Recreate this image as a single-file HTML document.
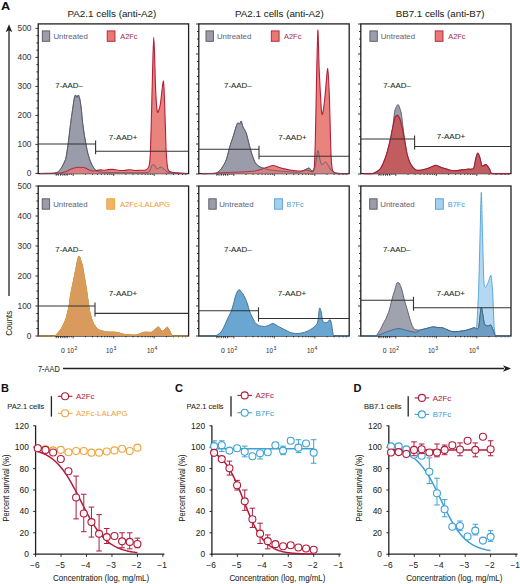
<!DOCTYPE html>
<html><head><meta charset="utf-8"><style>
html,body{margin:0;padding:0;background:#fff;width:520px;height:584px;overflow:hidden}
svg{display:block}
text{font-family:"Liberation Sans", sans-serif}
</style></head><body>
<svg width="520" height="584" viewBox="0 0 520 584">
<rect width="520" height="584" fill="#fff"/>
<text x="1.0" y="10.4" font-size="10.4" font-weight="bold" fill="#111" textLength="9.2" lengthAdjust="spacingAndGlyphs" stroke="#111" stroke-width="0.06">A</text>
<text x="67.5" y="16.5" font-size="9.3" fill="#231f20" textLength="88.8" lengthAdjust="spacingAndGlyphs" stroke="#231f20" stroke-width="0.06">PA2.1 cells (anti-A2)</text>
<text x="235.0" y="16.5" font-size="9.3" fill="#231f20" textLength="88.8" lengthAdjust="spacingAndGlyphs" stroke="#231f20" stroke-width="0.06">PA2.1 cells (anti-A2)</text>
<text x="395.7" y="16.5" font-size="9.3" fill="#231f20" textLength="88.8" lengthAdjust="spacingAndGlyphs" stroke="#231f20" stroke-width="0.06">BB7.1 cells (anti-B7)</text>
<rect x="38.2" y="23.9" width="150.39999999999998" height="149.7" fill="none" stroke="#1f1f1f" stroke-width="1.3"/>
<line x1="35.400000000000006" y1="173.40" x2="38.2" y2="173.40" stroke="#1f1f1f" stroke-width="0.9"/>
<line x1="36.400000000000006" y1="166.15" x2="38.2" y2="166.15" stroke="#1f1f1f" stroke-width="0.9"/>
<line x1="36.400000000000006" y1="158.90" x2="38.2" y2="158.90" stroke="#1f1f1f" stroke-width="0.9"/>
<line x1="36.400000000000006" y1="151.65" x2="38.2" y2="151.65" stroke="#1f1f1f" stroke-width="0.9"/>
<line x1="35.400000000000006" y1="144.40" x2="38.2" y2="144.40" stroke="#1f1f1f" stroke-width="0.9"/>
<line x1="36.400000000000006" y1="137.15" x2="38.2" y2="137.15" stroke="#1f1f1f" stroke-width="0.9"/>
<line x1="36.400000000000006" y1="129.90" x2="38.2" y2="129.90" stroke="#1f1f1f" stroke-width="0.9"/>
<line x1="36.400000000000006" y1="122.65" x2="38.2" y2="122.65" stroke="#1f1f1f" stroke-width="0.9"/>
<line x1="35.400000000000006" y1="115.40" x2="38.2" y2="115.40" stroke="#1f1f1f" stroke-width="0.9"/>
<line x1="36.400000000000006" y1="108.15" x2="38.2" y2="108.15" stroke="#1f1f1f" stroke-width="0.9"/>
<line x1="36.400000000000006" y1="100.90" x2="38.2" y2="100.90" stroke="#1f1f1f" stroke-width="0.9"/>
<line x1="36.400000000000006" y1="93.65" x2="38.2" y2="93.65" stroke="#1f1f1f" stroke-width="0.9"/>
<line x1="35.400000000000006" y1="86.40" x2="38.2" y2="86.40" stroke="#1f1f1f" stroke-width="0.9"/>
<line x1="36.400000000000006" y1="79.15" x2="38.2" y2="79.15" stroke="#1f1f1f" stroke-width="0.9"/>
<line x1="36.400000000000006" y1="71.90" x2="38.2" y2="71.90" stroke="#1f1f1f" stroke-width="0.9"/>
<line x1="36.400000000000006" y1="64.65" x2="38.2" y2="64.65" stroke="#1f1f1f" stroke-width="0.9"/>
<line x1="35.400000000000006" y1="57.40" x2="38.2" y2="57.40" stroke="#1f1f1f" stroke-width="0.9"/>
<line x1="36.400000000000006" y1="50.15" x2="38.2" y2="50.15" stroke="#1f1f1f" stroke-width="0.9"/>
<line x1="36.400000000000006" y1="42.90" x2="38.2" y2="42.90" stroke="#1f1f1f" stroke-width="0.9"/>
<line x1="36.400000000000006" y1="35.65" x2="38.2" y2="35.65" stroke="#1f1f1f" stroke-width="0.9"/>
<line x1="35.400000000000006" y1="28.40" x2="38.2" y2="28.40" stroke="#1f1f1f" stroke-width="0.9"/>
<line x1="57.08" y1="173.6" x2="57.08" y2="175.0" stroke="#1f1f1f" stroke-width="0.8"/>
<line x1="61.01" y1="173.6" x2="61.01" y2="175.0" stroke="#1f1f1f" stroke-width="0.8"/>
<line x1="64.22" y1="173.6" x2="64.22" y2="175.0" stroke="#1f1f1f" stroke-width="0.8"/>
<line x1="66.93" y1="173.6" x2="66.93" y2="175.0" stroke="#1f1f1f" stroke-width="0.8"/>
<line x1="69.28" y1="173.6" x2="69.28" y2="175.0" stroke="#1f1f1f" stroke-width="0.8"/>
<line x1="71.35" y1="173.6" x2="71.35" y2="175.0" stroke="#1f1f1f" stroke-width="0.8"/>
<line x1="73.20" y1="173.6" x2="73.20" y2="176.0" stroke="#1f1f1f" stroke-width="0.8"/>
<line x1="85.39" y1="173.6" x2="85.39" y2="175.0" stroke="#1f1f1f" stroke-width="0.8"/>
<line x1="92.52" y1="173.6" x2="92.52" y2="175.0" stroke="#1f1f1f" stroke-width="0.8"/>
<line x1="97.58" y1="173.6" x2="97.58" y2="175.0" stroke="#1f1f1f" stroke-width="0.8"/>
<line x1="101.51" y1="173.6" x2="101.51" y2="175.0" stroke="#1f1f1f" stroke-width="0.8"/>
<line x1="104.72" y1="173.6" x2="104.72" y2="175.0" stroke="#1f1f1f" stroke-width="0.8"/>
<line x1="107.43" y1="173.6" x2="107.43" y2="175.0" stroke="#1f1f1f" stroke-width="0.8"/>
<line x1="109.78" y1="173.6" x2="109.78" y2="175.0" stroke="#1f1f1f" stroke-width="0.8"/>
<line x1="111.85" y1="173.6" x2="111.85" y2="175.0" stroke="#1f1f1f" stroke-width="0.8"/>
<line x1="113.70" y1="173.6" x2="113.70" y2="176.0" stroke="#1f1f1f" stroke-width="0.8"/>
<line x1="125.89" y1="173.6" x2="125.89" y2="175.0" stroke="#1f1f1f" stroke-width="0.8"/>
<line x1="133.02" y1="173.6" x2="133.02" y2="175.0" stroke="#1f1f1f" stroke-width="0.8"/>
<line x1="138.08" y1="173.6" x2="138.08" y2="175.0" stroke="#1f1f1f" stroke-width="0.8"/>
<line x1="142.01" y1="173.6" x2="142.01" y2="175.0" stroke="#1f1f1f" stroke-width="0.8"/>
<line x1="145.22" y1="173.6" x2="145.22" y2="175.0" stroke="#1f1f1f" stroke-width="0.8"/>
<line x1="147.93" y1="173.6" x2="147.93" y2="175.0" stroke="#1f1f1f" stroke-width="0.8"/>
<line x1="150.28" y1="173.6" x2="150.28" y2="175.0" stroke="#1f1f1f" stroke-width="0.8"/>
<line x1="152.35" y1="173.6" x2="152.35" y2="175.0" stroke="#1f1f1f" stroke-width="0.8"/>
<line x1="154.20" y1="173.6" x2="154.20" y2="176.0" stroke="#1f1f1f" stroke-width="0.8"/>
<line x1="166.39" y1="173.6" x2="166.39" y2="175.0" stroke="#1f1f1f" stroke-width="0.8"/>
<line x1="173.52" y1="173.6" x2="173.52" y2="175.0" stroke="#1f1f1f" stroke-width="0.8"/>
<line x1="178.58" y1="173.6" x2="178.58" y2="175.0" stroke="#1f1f1f" stroke-width="0.8"/>
<line x1="182.51" y1="173.6" x2="182.51" y2="175.0" stroke="#1f1f1f" stroke-width="0.8"/>
<line x1="185.72" y1="173.6" x2="185.72" y2="175.0" stroke="#1f1f1f" stroke-width="0.8"/>
<line x1="56.20" y1="173.6" x2="56.20" y2="175.79999999999998" stroke="#1f1f1f" stroke-width="0.8"/>
<line x1="58.40" y1="173.6" x2="58.40" y2="175.79999999999998" stroke="#1f1f1f" stroke-width="0.8"/>
<line x1="60.60" y1="173.6" x2="60.60" y2="175.79999999999998" stroke="#1f1f1f" stroke-width="0.8"/>
<line x1="62.80" y1="173.6" x2="62.80" y2="175.79999999999998" stroke="#1f1f1f" stroke-width="0.8"/>
<line x1="65.00" y1="173.6" x2="65.00" y2="175.79999999999998" stroke="#1f1f1f" stroke-width="0.8"/>
<line x1="67.20" y1="173.6" x2="67.20" y2="175.79999999999998" stroke="#1f1f1f" stroke-width="0.8"/>
<g><path d="M40.00,173.6 L40.00,173.60 C41.17,173.59 48.37,173.53 50.00,173.50 C51.63,173.47 53.03,173.51 54.00,173.30 C54.97,173.09 57.37,172.45 58.30,171.70 C59.23,170.95 61.15,168.36 62.00,166.90 C62.85,165.44 65.04,160.82 65.60,159.20 C66.16,157.58 66.47,155.01 66.80,153.00 C67.13,150.99 67.96,145.44 68.40,142.00 C68.84,138.56 70.09,127.47 70.60,123.50 C71.11,119.53 72.37,110.97 72.80,108.00 C73.23,105.03 73.98,99.52 74.30,98.00 C74.61,96.48 75.19,95.06 75.50,95.00 C75.81,94.94 76.67,97.50 77.00,97.50 C77.33,97.50 77.97,94.83 78.30,95.00 C78.63,95.17 79.46,97.48 79.80,99.00 C80.14,100.52 80.86,105.14 81.20,108.00 C81.54,110.86 82.26,119.88 82.70,123.50 C83.14,127.12 84.44,135.68 85.00,139.00 C85.56,142.32 86.96,149.64 87.50,152.00 C88.04,154.36 89.13,157.80 89.60,159.20 C90.07,160.60 91.05,163.03 91.50,164.00 C91.95,164.97 92.95,166.71 93.50,167.50 C94.05,168.29 95.44,170.28 96.20,170.80 C96.96,171.33 98.39,171.79 100.00,172.00 C101.61,172.21 105.33,172.51 110.00,172.60 C114.67,172.69 135.45,172.87 140.00,172.80 C144.55,172.73 147.62,172.85 149.00,172.00 C150.38,171.15 151.17,166.32 151.80,165.50 C152.43,164.68 153.79,164.59 154.40,165.00 C155.01,165.41 156.25,168.77 157.00,169.00 C157.75,169.23 159.98,167.00 160.80,167.00 C161.62,167.00 163.16,168.36 164.00,169.00 C164.84,169.64 166.72,171.97 168.00,172.50 C169.28,173.03 172.71,173.37 175.00,173.50 C177.29,173.63 186.13,173.59 187.60,173.60 L187.60,173.6 Z" fill="#9b9daa" fill-opacity="1.0" stroke="none"/>
<path d="M40.00,173.60 C41.17,173.59 48.37,173.53 50.00,173.50 C51.63,173.47 53.03,173.51 54.00,173.30 C54.97,173.09 57.37,172.45 58.30,171.70 C59.23,170.95 61.15,168.36 62.00,166.90 C62.85,165.44 65.04,160.82 65.60,159.20 C66.16,157.58 66.47,155.01 66.80,153.00 C67.13,150.99 67.96,145.44 68.40,142.00 C68.84,138.56 70.09,127.47 70.60,123.50 C71.11,119.53 72.37,110.97 72.80,108.00 C73.23,105.03 73.98,99.52 74.30,98.00 C74.61,96.48 75.19,95.06 75.50,95.00 C75.81,94.94 76.67,97.50 77.00,97.50 C77.33,97.50 77.97,94.83 78.30,95.00 C78.63,95.17 79.46,97.48 79.80,99.00 C80.14,100.52 80.86,105.14 81.20,108.00 C81.54,110.86 82.26,119.88 82.70,123.50 C83.14,127.12 84.44,135.68 85.00,139.00 C85.56,142.32 86.96,149.64 87.50,152.00 C88.04,154.36 89.13,157.80 89.60,159.20 C90.07,160.60 91.05,163.03 91.50,164.00 C91.95,164.97 92.95,166.71 93.50,167.50 C94.05,168.29 95.44,170.28 96.20,170.80 C96.96,171.33 98.39,171.79 100.00,172.00 C101.61,172.21 105.33,172.51 110.00,172.60 C114.67,172.69 135.45,172.87 140.00,172.80 C144.55,172.73 147.62,172.85 149.00,172.00 C150.38,171.15 151.17,166.32 151.80,165.50 C152.43,164.68 153.79,164.59 154.40,165.00 C155.01,165.41 156.25,168.77 157.00,169.00 C157.75,169.23 159.98,167.00 160.80,167.00 C161.62,167.00 163.16,168.36 164.00,169.00 C164.84,169.64 166.72,171.97 168.00,172.50 C169.28,173.03 172.71,173.37 175.00,173.50 C177.29,173.63 186.13,173.59 187.60,173.60" fill="none" stroke="#545766" stroke-width="0.9" stroke-linejoin="round"/></g>
<g><path d="M40.00,173.6 L40.00,173.50 C41.75,173.47 52.43,173.28 55.00,173.20 C57.57,173.12 60.72,172.99 62.00,172.80 C63.28,172.61 65.07,171.97 66.00,171.60 C66.93,171.23 69.07,170.02 70.00,169.60 C70.93,169.18 72.97,168.28 74.00,168.00 C75.03,167.72 78.01,167.22 78.80,167.20 C79.59,167.18 80.34,167.80 80.80,167.80 C81.25,167.80 82.09,167.14 82.70,167.20 C83.31,167.26 85.15,167.95 86.00,168.30 C86.85,168.65 89.15,169.88 90.00,170.20 C90.85,170.51 92.60,170.95 93.30,171.00 C94.00,171.05 95.22,170.73 96.00,170.60 C96.78,170.47 99.07,169.94 100.00,169.90 C100.93,169.87 103.07,170.34 104.00,170.30 C104.93,170.27 106.95,169.70 108.00,169.60 C109.05,169.50 111.83,169.33 113.00,169.40 C114.17,169.47 116.72,170.07 118.00,170.20 C119.28,170.33 122.60,170.55 124.00,170.50 C125.40,170.45 128.60,169.80 130.00,169.80 C131.40,169.80 134.83,170.45 136.00,170.50 C137.17,170.55 138.83,170.26 140.00,170.20 C141.17,170.14 144.93,170.55 146.00,170.00 C147.07,169.45 148.67,167.83 149.20,165.50 C149.72,163.17 150.20,157.41 150.50,150.00 C150.80,142.59 151.51,113.08 151.80,102.00 C152.09,90.92 152.77,62.55 153.00,55.00 C153.23,47.45 153.61,37.30 153.80,37.30 C153.99,37.30 154.39,48.97 154.60,55.00 C154.81,61.03 155.27,82.35 155.60,89.00 C155.93,95.65 156.85,110.19 157.40,112.00 C157.95,113.81 159.61,108.12 160.30,104.50 C160.99,100.88 162.80,81.29 163.30,81.00 C163.80,80.71 164.28,94.18 164.60,102.00 C164.91,109.82 165.70,140.69 166.00,148.00 C166.30,155.31 166.91,162.06 167.20,164.70 C167.49,167.34 167.94,169.71 168.50,170.60 C169.06,171.49 170.66,172.02 172.00,172.30 C173.34,172.58 178.13,172.86 180.00,173.00 C181.87,173.14 187.07,173.44 188.00,173.50 L188.00,173.6 Z" fill="#e77873" fill-opacity="0.92" stroke="none"/>
<path d="M40.00,173.50 C41.75,173.47 52.43,173.28 55.00,173.20 C57.57,173.12 60.72,172.99 62.00,172.80 C63.28,172.61 65.07,171.97 66.00,171.60 C66.93,171.23 69.07,170.02 70.00,169.60 C70.93,169.18 72.97,168.28 74.00,168.00 C75.03,167.72 78.01,167.22 78.80,167.20 C79.59,167.18 80.34,167.80 80.80,167.80 C81.25,167.80 82.09,167.14 82.70,167.20 C83.31,167.26 85.15,167.95 86.00,168.30 C86.85,168.65 89.15,169.88 90.00,170.20 C90.85,170.51 92.60,170.95 93.30,171.00 C94.00,171.05 95.22,170.73 96.00,170.60 C96.78,170.47 99.07,169.94 100.00,169.90 C100.93,169.87 103.07,170.34 104.00,170.30 C104.93,170.27 106.95,169.70 108.00,169.60 C109.05,169.50 111.83,169.33 113.00,169.40 C114.17,169.47 116.72,170.07 118.00,170.20 C119.28,170.33 122.60,170.55 124.00,170.50 C125.40,170.45 128.60,169.80 130.00,169.80 C131.40,169.80 134.83,170.45 136.00,170.50 C137.17,170.55 138.83,170.26 140.00,170.20 C141.17,170.14 144.93,170.55 146.00,170.00 C147.07,169.45 148.67,167.83 149.20,165.50 C149.72,163.17 150.20,157.41 150.50,150.00 C150.80,142.59 151.51,113.08 151.80,102.00 C152.09,90.92 152.77,62.55 153.00,55.00 C153.23,47.45 153.61,37.30 153.80,37.30 C153.99,37.30 154.39,48.97 154.60,55.00 C154.81,61.03 155.27,82.35 155.60,89.00 C155.93,95.65 156.85,110.19 157.40,112.00 C157.95,113.81 159.61,108.12 160.30,104.50 C160.99,100.88 162.80,81.29 163.30,81.00 C163.80,80.71 164.28,94.18 164.60,102.00 C164.91,109.82 165.70,140.69 166.00,148.00 C166.30,155.31 166.91,162.06 167.20,164.70 C167.49,167.34 167.94,169.71 168.50,170.60 C169.06,171.49 170.66,172.02 172.00,172.30 C173.34,172.58 178.13,172.86 180.00,173.00 C181.87,173.14 187.07,173.44 188.00,173.50" fill="none" stroke="#b51f3a" stroke-width="1.1" stroke-linejoin="round"/></g>
<g><path d="M40.00,173.6 L40.00,173.60 C41.17,173.59 48.37,173.53 50.00,173.50 C51.63,173.47 53.03,173.51 54.00,173.30 C54.97,173.09 57.37,172.45 58.30,171.70 C59.23,170.95 61.15,168.36 62.00,166.90 C62.85,165.44 65.04,160.82 65.60,159.20 C66.16,157.58 66.47,155.01 66.80,153.00 C67.13,150.99 67.96,145.44 68.40,142.00 C68.84,138.56 70.09,127.47 70.60,123.50 C71.11,119.53 72.37,110.97 72.80,108.00 C73.23,105.03 73.98,99.52 74.30,98.00 C74.61,96.48 75.19,95.06 75.50,95.00 C75.81,94.94 76.67,97.50 77.00,97.50 C77.33,97.50 77.97,94.83 78.30,95.00 C78.63,95.17 79.46,97.48 79.80,99.00 C80.14,100.52 80.86,105.14 81.20,108.00 C81.54,110.86 82.26,119.88 82.70,123.50 C83.14,127.12 84.44,135.68 85.00,139.00 C85.56,142.32 86.96,149.64 87.50,152.00 C88.04,154.36 89.13,157.80 89.60,159.20 C90.07,160.60 91.05,163.03 91.50,164.00 C91.95,164.97 92.95,166.71 93.50,167.50 C94.05,168.29 95.44,170.28 96.20,170.80 C96.96,171.33 98.39,171.79 100.00,172.00 C101.61,172.21 105.33,172.51 110.00,172.60 C114.67,172.69 135.45,172.87 140.00,172.80 C144.55,172.73 147.62,172.85 149.00,172.00 C150.38,171.15 151.17,166.32 151.80,165.50 C152.43,164.68 153.79,164.59 154.40,165.00 C155.01,165.41 156.25,168.77 157.00,169.00 C157.75,169.23 159.98,167.00 160.80,167.00 C161.62,167.00 163.16,168.36 164.00,169.00 C164.84,169.64 166.72,171.97 168.00,172.50 C169.28,173.03 172.71,173.37 175.00,173.50 C177.29,173.63 186.13,173.59 187.60,173.60 L187.60,173.6 Z" fill="#9b9daa" fill-opacity="0.15" stroke="none"/>
<path d="M40.00,173.60 C41.17,173.59 48.37,173.53 50.00,173.50 C51.63,173.47 53.03,173.51 54.00,173.30 C54.97,173.09 57.37,172.45 58.30,171.70 C59.23,170.95 61.15,168.36 62.00,166.90 C62.85,165.44 65.04,160.82 65.60,159.20 C66.16,157.58 66.47,155.01 66.80,153.00 C67.13,150.99 67.96,145.44 68.40,142.00 C68.84,138.56 70.09,127.47 70.60,123.50 C71.11,119.53 72.37,110.97 72.80,108.00 C73.23,105.03 73.98,99.52 74.30,98.00 C74.61,96.48 75.19,95.06 75.50,95.00 C75.81,94.94 76.67,97.50 77.00,97.50 C77.33,97.50 77.97,94.83 78.30,95.00 C78.63,95.17 79.46,97.48 79.80,99.00 C80.14,100.52 80.86,105.14 81.20,108.00 C81.54,110.86 82.26,119.88 82.70,123.50 C83.14,127.12 84.44,135.68 85.00,139.00 C85.56,142.32 86.96,149.64 87.50,152.00 C88.04,154.36 89.13,157.80 89.60,159.20 C90.07,160.60 91.05,163.03 91.50,164.00 C91.95,164.97 92.95,166.71 93.50,167.50 C94.05,168.29 95.44,170.28 96.20,170.80 C96.96,171.33 98.39,171.79 100.00,172.00 C101.61,172.21 105.33,172.51 110.00,172.60 C114.67,172.69 135.45,172.87 140.00,172.80 C144.55,172.73 147.62,172.85 149.00,172.00 C150.38,171.15 151.17,166.32 151.80,165.50 C152.43,164.68 153.79,164.59 154.40,165.00 C155.01,165.41 156.25,168.77 157.00,169.00 C157.75,169.23 159.98,167.00 160.80,167.00 C161.62,167.00 163.16,168.36 164.00,169.00 C164.84,169.64 166.72,171.97 168.00,172.50 C169.28,173.03 172.71,173.37 175.00,173.50 C177.29,173.63 186.13,173.59 187.60,173.60" fill="none" stroke="#545766" stroke-width="0.7" stroke-linejoin="round"/></g>
<rect x="42.3" y="30.9" width="7.4" height="10.4" fill="#9b9daa" stroke="#545766" stroke-width="0.9"/>
<text x="53.4" y="38.8" font-size="8.1" fill="#66687a" textLength="34.4" lengthAdjust="spacingAndGlyphs" stroke="#66687a" stroke-width="0.06">Untreated</text>
<rect x="107.2" y="30.9" width="7.8" height="10.4" fill="#e77873" stroke="#b51f3a" stroke-width="0.9"/>
<text x="120.2" y="38.8" font-size="8.1" fill="#a83450" textLength="17.4" lengthAdjust="spacingAndGlyphs" stroke="#a83450" stroke-width="0.06">A2Fc</text>
<line x1="38.2" y1="144.0" x2="95.6" y2="144.0" stroke="#333" stroke-width="1.1"/>
<line x1="95.6" y1="140.5" x2="95.6" y2="154.2" stroke="#333" stroke-width="1.1"/>
<line x1="95.6" y1="151.2" x2="188.6" y2="151.2" stroke="#333" stroke-width="1.1"/>
<text x="55.3" y="88.1" font-size="7.7" fill="#231f20" textLength="27.6" lengthAdjust="spacingAndGlyphs" stroke="#231f20" stroke-width="0.06">7-AAD–</text>
<text x="108.8" y="139.6" font-size="7.7" fill="#231f20" textLength="28.6" lengthAdjust="spacingAndGlyphs" stroke="#231f20" stroke-width="0.06">7-AAD+</text>
<rect x="198.8" y="23.9" width="150.39999999999998" height="149.7" fill="none" stroke="#1f1f1f" stroke-width="1.3"/>
<line x1="196.0" y1="174.00" x2="198.8" y2="174.00" stroke="#1f1f1f" stroke-width="0.9"/>
<line x1="197.0" y1="166.50" x2="198.8" y2="166.50" stroke="#1f1f1f" stroke-width="0.9"/>
<line x1="197.0" y1="159.00" x2="198.8" y2="159.00" stroke="#1f1f1f" stroke-width="0.9"/>
<line x1="197.0" y1="151.50" x2="198.8" y2="151.50" stroke="#1f1f1f" stroke-width="0.9"/>
<line x1="196.0" y1="144.00" x2="198.8" y2="144.00" stroke="#1f1f1f" stroke-width="0.9"/>
<line x1="197.0" y1="136.50" x2="198.8" y2="136.50" stroke="#1f1f1f" stroke-width="0.9"/>
<line x1="197.0" y1="129.00" x2="198.8" y2="129.00" stroke="#1f1f1f" stroke-width="0.9"/>
<line x1="197.0" y1="121.50" x2="198.8" y2="121.50" stroke="#1f1f1f" stroke-width="0.9"/>
<line x1="196.0" y1="114.00" x2="198.8" y2="114.00" stroke="#1f1f1f" stroke-width="0.9"/>
<line x1="197.0" y1="106.50" x2="198.8" y2="106.50" stroke="#1f1f1f" stroke-width="0.9"/>
<line x1="197.0" y1="99.00" x2="198.8" y2="99.00" stroke="#1f1f1f" stroke-width="0.9"/>
<line x1="197.0" y1="91.50" x2="198.8" y2="91.50" stroke="#1f1f1f" stroke-width="0.9"/>
<line x1="196.0" y1="84.00" x2="198.8" y2="84.00" stroke="#1f1f1f" stroke-width="0.9"/>
<line x1="197.0" y1="76.50" x2="198.8" y2="76.50" stroke="#1f1f1f" stroke-width="0.9"/>
<line x1="197.0" y1="69.00" x2="198.8" y2="69.00" stroke="#1f1f1f" stroke-width="0.9"/>
<line x1="197.0" y1="61.50" x2="198.8" y2="61.50" stroke="#1f1f1f" stroke-width="0.9"/>
<line x1="196.0" y1="54.00" x2="198.8" y2="54.00" stroke="#1f1f1f" stroke-width="0.9"/>
<line x1="197.0" y1="46.50" x2="198.8" y2="46.50" stroke="#1f1f1f" stroke-width="0.9"/>
<line x1="197.0" y1="39.00" x2="198.8" y2="39.00" stroke="#1f1f1f" stroke-width="0.9"/>
<line x1="197.0" y1="31.50" x2="198.8" y2="31.50" stroke="#1f1f1f" stroke-width="0.9"/>
<line x1="196.0" y1="24.00" x2="198.8" y2="24.00" stroke="#1f1f1f" stroke-width="0.9"/>
<line x1="217.68" y1="173.6" x2="217.68" y2="175.0" stroke="#1f1f1f" stroke-width="0.8"/>
<line x1="221.61" y1="173.6" x2="221.61" y2="175.0" stroke="#1f1f1f" stroke-width="0.8"/>
<line x1="224.82" y1="173.6" x2="224.82" y2="175.0" stroke="#1f1f1f" stroke-width="0.8"/>
<line x1="227.53" y1="173.6" x2="227.53" y2="175.0" stroke="#1f1f1f" stroke-width="0.8"/>
<line x1="229.88" y1="173.6" x2="229.88" y2="175.0" stroke="#1f1f1f" stroke-width="0.8"/>
<line x1="231.95" y1="173.6" x2="231.95" y2="175.0" stroke="#1f1f1f" stroke-width="0.8"/>
<line x1="233.80" y1="173.6" x2="233.80" y2="176.0" stroke="#1f1f1f" stroke-width="0.8"/>
<line x1="245.99" y1="173.6" x2="245.99" y2="175.0" stroke="#1f1f1f" stroke-width="0.8"/>
<line x1="253.12" y1="173.6" x2="253.12" y2="175.0" stroke="#1f1f1f" stroke-width="0.8"/>
<line x1="258.18" y1="173.6" x2="258.18" y2="175.0" stroke="#1f1f1f" stroke-width="0.8"/>
<line x1="262.11" y1="173.6" x2="262.11" y2="175.0" stroke="#1f1f1f" stroke-width="0.8"/>
<line x1="265.32" y1="173.6" x2="265.32" y2="175.0" stroke="#1f1f1f" stroke-width="0.8"/>
<line x1="268.03" y1="173.6" x2="268.03" y2="175.0" stroke="#1f1f1f" stroke-width="0.8"/>
<line x1="270.38" y1="173.6" x2="270.38" y2="175.0" stroke="#1f1f1f" stroke-width="0.8"/>
<line x1="272.45" y1="173.6" x2="272.45" y2="175.0" stroke="#1f1f1f" stroke-width="0.8"/>
<line x1="274.30" y1="173.6" x2="274.30" y2="176.0" stroke="#1f1f1f" stroke-width="0.8"/>
<line x1="286.49" y1="173.6" x2="286.49" y2="175.0" stroke="#1f1f1f" stroke-width="0.8"/>
<line x1="293.62" y1="173.6" x2="293.62" y2="175.0" stroke="#1f1f1f" stroke-width="0.8"/>
<line x1="298.68" y1="173.6" x2="298.68" y2="175.0" stroke="#1f1f1f" stroke-width="0.8"/>
<line x1="302.61" y1="173.6" x2="302.61" y2="175.0" stroke="#1f1f1f" stroke-width="0.8"/>
<line x1="305.82" y1="173.6" x2="305.82" y2="175.0" stroke="#1f1f1f" stroke-width="0.8"/>
<line x1="308.53" y1="173.6" x2="308.53" y2="175.0" stroke="#1f1f1f" stroke-width="0.8"/>
<line x1="310.88" y1="173.6" x2="310.88" y2="175.0" stroke="#1f1f1f" stroke-width="0.8"/>
<line x1="312.95" y1="173.6" x2="312.95" y2="175.0" stroke="#1f1f1f" stroke-width="0.8"/>
<line x1="314.80" y1="173.6" x2="314.80" y2="176.0" stroke="#1f1f1f" stroke-width="0.8"/>
<line x1="326.99" y1="173.6" x2="326.99" y2="175.0" stroke="#1f1f1f" stroke-width="0.8"/>
<line x1="334.12" y1="173.6" x2="334.12" y2="175.0" stroke="#1f1f1f" stroke-width="0.8"/>
<line x1="339.18" y1="173.6" x2="339.18" y2="175.0" stroke="#1f1f1f" stroke-width="0.8"/>
<line x1="343.11" y1="173.6" x2="343.11" y2="175.0" stroke="#1f1f1f" stroke-width="0.8"/>
<line x1="346.32" y1="173.6" x2="346.32" y2="175.0" stroke="#1f1f1f" stroke-width="0.8"/>
<line x1="216.80" y1="173.6" x2="216.80" y2="175.79999999999998" stroke="#1f1f1f" stroke-width="0.8"/>
<line x1="219.00" y1="173.6" x2="219.00" y2="175.79999999999998" stroke="#1f1f1f" stroke-width="0.8"/>
<line x1="221.20" y1="173.6" x2="221.20" y2="175.79999999999998" stroke="#1f1f1f" stroke-width="0.8"/>
<line x1="223.40" y1="173.6" x2="223.40" y2="175.79999999999998" stroke="#1f1f1f" stroke-width="0.8"/>
<line x1="225.60" y1="173.6" x2="225.60" y2="175.79999999999998" stroke="#1f1f1f" stroke-width="0.8"/>
<line x1="227.80" y1="173.6" x2="227.80" y2="175.79999999999998" stroke="#1f1f1f" stroke-width="0.8"/>
<g><path d="M201.80,173.6 L201.80,173.60 C202.76,173.60 208.32,173.65 210.00,173.60 C211.68,173.55 214.86,173.79 216.20,173.20 C217.54,172.60 220.33,170.04 221.50,168.50 C222.67,166.96 225.21,162.62 226.20,160.00 C227.19,157.38 229.21,148.68 230.00,146.00 C230.79,143.32 232.30,139.22 233.00,137.00 C233.70,134.78 235.45,128.63 236.00,127.00 C236.55,125.37 237.27,123.37 237.70,123.00 C238.13,122.63 239.29,124.01 239.70,123.80 C240.11,123.59 240.81,120.83 241.20,121.20 C241.58,121.57 242.42,125.62 243.00,127.00 C243.58,128.38 245.48,130.95 246.20,133.00 C246.92,135.05 248.49,141.99 249.20,144.60 C249.91,147.21 251.58,153.25 252.30,155.40 C253.02,157.55 254.50,161.65 255.40,163.00 C256.30,164.35 258.93,166.36 260.00,167.00 C261.07,167.64 263.43,168.15 264.60,168.50 C265.77,168.85 267.62,169.65 270.00,170.00 C272.38,170.35 281.50,171.27 285.00,171.50 C288.50,171.73 297.22,172.41 300.00,172.00 C302.78,171.59 307.40,168.12 308.80,168.00 C310.20,167.88 311.24,171.23 312.00,171.00 C312.76,170.77 314.61,168.39 315.30,166.00 C315.99,163.61 317.35,151.20 317.90,150.50 C318.45,149.80 319.55,158.34 320.00,160.00 C320.45,161.66 321.15,164.47 321.80,164.70 C322.45,164.93 324.85,161.91 325.60,162.00 C326.35,162.09 327.57,164.57 328.20,165.50 C328.83,166.43 330.09,169.07 331.00,170.00 C331.91,170.93 333.99,173.08 336.00,173.50 C338.01,173.92 346.78,173.59 348.20,173.60 L348.20,173.6 Z" fill="#9b9daa" fill-opacity="1.0" stroke="none"/>
<path d="M201.80,173.60 C202.76,173.60 208.32,173.65 210.00,173.60 C211.68,173.55 214.86,173.79 216.20,173.20 C217.54,172.60 220.33,170.04 221.50,168.50 C222.67,166.96 225.21,162.62 226.20,160.00 C227.19,157.38 229.21,148.68 230.00,146.00 C230.79,143.32 232.30,139.22 233.00,137.00 C233.70,134.78 235.45,128.63 236.00,127.00 C236.55,125.37 237.27,123.37 237.70,123.00 C238.13,122.63 239.29,124.01 239.70,123.80 C240.11,123.59 240.81,120.83 241.20,121.20 C241.58,121.57 242.42,125.62 243.00,127.00 C243.58,128.38 245.48,130.95 246.20,133.00 C246.92,135.05 248.49,141.99 249.20,144.60 C249.91,147.21 251.58,153.25 252.30,155.40 C253.02,157.55 254.50,161.65 255.40,163.00 C256.30,164.35 258.93,166.36 260.00,167.00 C261.07,167.64 263.43,168.15 264.60,168.50 C265.77,168.85 267.62,169.65 270.00,170.00 C272.38,170.35 281.50,171.27 285.00,171.50 C288.50,171.73 297.22,172.41 300.00,172.00 C302.78,171.59 307.40,168.12 308.80,168.00 C310.20,167.88 311.24,171.23 312.00,171.00 C312.76,170.77 314.61,168.39 315.30,166.00 C315.99,163.61 317.35,151.20 317.90,150.50 C318.45,149.80 319.55,158.34 320.00,160.00 C320.45,161.66 321.15,164.47 321.80,164.70 C322.45,164.93 324.85,161.91 325.60,162.00 C326.35,162.09 327.57,164.57 328.20,165.50 C328.83,166.43 330.09,169.07 331.00,170.00 C331.91,170.93 333.99,173.08 336.00,173.50 C338.01,173.92 346.78,173.59 348.20,173.60" fill="none" stroke="#545766" stroke-width="0.9" stroke-linejoin="round"/></g>
<g><path d="M201.80,173.6 L201.80,173.60 C202.17,173.60 203.46,173.65 205.00,173.60 C206.54,173.55 212.67,173.33 215.00,173.20 C217.33,173.07 222.08,172.64 225.00,172.50 C227.92,172.36 236.50,172.18 240.00,172.00 C243.50,171.82 252.43,171.35 255.00,171.00 C257.57,170.65 260.48,169.47 262.00,169.00 C263.52,168.53 266.72,167.41 268.00,167.00 C269.28,166.59 271.83,165.50 273.00,165.50 C274.17,165.50 276.83,166.64 278.00,167.00 C279.17,167.36 281.60,168.25 283.00,168.60 C284.40,168.95 288.02,169.72 290.00,170.00 C291.98,170.28 298.13,171.00 300.00,171.00 C301.87,171.00 304.83,170.00 306.00,170.00 C307.17,170.00 309.07,171.00 310.00,171.00 C310.93,171.00 313.38,173.44 314.00,170.00 C314.62,166.56 315.00,152.37 315.30,141.50 C315.60,130.63 316.30,89.78 316.60,76.80 C316.90,63.81 317.60,30.99 317.90,30.20 C318.20,29.41 318.81,60.95 319.20,70.00 C319.58,79.05 320.81,102.63 321.20,107.80 C321.58,112.97 322.07,115.50 322.50,114.30 C322.93,113.10 324.29,102.84 324.90,97.50 C325.51,92.16 327.16,68.21 327.70,68.50 C328.24,68.79 329.14,90.59 329.50,100.00 C329.86,109.41 330.50,141.20 330.80,149.20 C331.10,157.20 331.70,165.88 332.10,168.60 C332.50,171.32 333.28,171.93 334.20,172.50 C335.12,173.07 338.37,173.37 340.00,173.50 C341.63,173.63 347.24,173.59 348.20,173.60 L348.20,173.6 Z" fill="#e77873" fill-opacity="0.92" stroke="none"/>
<path d="M201.80,173.60 C202.17,173.60 203.46,173.65 205.00,173.60 C206.54,173.55 212.67,173.33 215.00,173.20 C217.33,173.07 222.08,172.64 225.00,172.50 C227.92,172.36 236.50,172.18 240.00,172.00 C243.50,171.82 252.43,171.35 255.00,171.00 C257.57,170.65 260.48,169.47 262.00,169.00 C263.52,168.53 266.72,167.41 268.00,167.00 C269.28,166.59 271.83,165.50 273.00,165.50 C274.17,165.50 276.83,166.64 278.00,167.00 C279.17,167.36 281.60,168.25 283.00,168.60 C284.40,168.95 288.02,169.72 290.00,170.00 C291.98,170.28 298.13,171.00 300.00,171.00 C301.87,171.00 304.83,170.00 306.00,170.00 C307.17,170.00 309.07,171.00 310.00,171.00 C310.93,171.00 313.38,173.44 314.00,170.00 C314.62,166.56 315.00,152.37 315.30,141.50 C315.60,130.63 316.30,89.78 316.60,76.80 C316.90,63.81 317.60,30.99 317.90,30.20 C318.20,29.41 318.81,60.95 319.20,70.00 C319.58,79.05 320.81,102.63 321.20,107.80 C321.58,112.97 322.07,115.50 322.50,114.30 C322.93,113.10 324.29,102.84 324.90,97.50 C325.51,92.16 327.16,68.21 327.70,68.50 C328.24,68.79 329.14,90.59 329.50,100.00 C329.86,109.41 330.50,141.20 330.80,149.20 C331.10,157.20 331.70,165.88 332.10,168.60 C332.50,171.32 333.28,171.93 334.20,172.50 C335.12,173.07 338.37,173.37 340.00,173.50 C341.63,173.63 347.24,173.59 348.20,173.60" fill="none" stroke="#b51f3a" stroke-width="1.1" stroke-linejoin="round"/></g>
<g><path d="M201.80,173.6 L201.80,173.60 C202.76,173.60 208.32,173.65 210.00,173.60 C211.68,173.55 214.86,173.79 216.20,173.20 C217.54,172.60 220.33,170.04 221.50,168.50 C222.67,166.96 225.21,162.62 226.20,160.00 C227.19,157.38 229.21,148.68 230.00,146.00 C230.79,143.32 232.30,139.22 233.00,137.00 C233.70,134.78 235.45,128.63 236.00,127.00 C236.55,125.37 237.27,123.37 237.70,123.00 C238.13,122.63 239.29,124.01 239.70,123.80 C240.11,123.59 240.81,120.83 241.20,121.20 C241.58,121.57 242.42,125.62 243.00,127.00 C243.58,128.38 245.48,130.95 246.20,133.00 C246.92,135.05 248.49,141.99 249.20,144.60 C249.91,147.21 251.58,153.25 252.30,155.40 C253.02,157.55 254.50,161.65 255.40,163.00 C256.30,164.35 258.93,166.36 260.00,167.00 C261.07,167.64 263.43,168.15 264.60,168.50 C265.77,168.85 267.62,169.65 270.00,170.00 C272.38,170.35 281.50,171.27 285.00,171.50 C288.50,171.73 297.22,172.41 300.00,172.00 C302.78,171.59 307.40,168.12 308.80,168.00 C310.20,167.88 311.24,171.23 312.00,171.00 C312.76,170.77 314.61,168.39 315.30,166.00 C315.99,163.61 317.35,151.20 317.90,150.50 C318.45,149.80 319.55,158.34 320.00,160.00 C320.45,161.66 321.15,164.47 321.80,164.70 C322.45,164.93 324.85,161.91 325.60,162.00 C326.35,162.09 327.57,164.57 328.20,165.50 C328.83,166.43 330.09,169.07 331.00,170.00 C331.91,170.93 333.99,173.08 336.00,173.50 C338.01,173.92 346.78,173.59 348.20,173.60 L348.20,173.6 Z" fill="#9b9daa" fill-opacity="0.2" stroke="none"/>
<path d="M201.80,173.60 C202.76,173.60 208.32,173.65 210.00,173.60 C211.68,173.55 214.86,173.79 216.20,173.20 C217.54,172.60 220.33,170.04 221.50,168.50 C222.67,166.96 225.21,162.62 226.20,160.00 C227.19,157.38 229.21,148.68 230.00,146.00 C230.79,143.32 232.30,139.22 233.00,137.00 C233.70,134.78 235.45,128.63 236.00,127.00 C236.55,125.37 237.27,123.37 237.70,123.00 C238.13,122.63 239.29,124.01 239.70,123.80 C240.11,123.59 240.81,120.83 241.20,121.20 C241.58,121.57 242.42,125.62 243.00,127.00 C243.58,128.38 245.48,130.95 246.20,133.00 C246.92,135.05 248.49,141.99 249.20,144.60 C249.91,147.21 251.58,153.25 252.30,155.40 C253.02,157.55 254.50,161.65 255.40,163.00 C256.30,164.35 258.93,166.36 260.00,167.00 C261.07,167.64 263.43,168.15 264.60,168.50 C265.77,168.85 267.62,169.65 270.00,170.00 C272.38,170.35 281.50,171.27 285.00,171.50 C288.50,171.73 297.22,172.41 300.00,172.00 C302.78,171.59 307.40,168.12 308.80,168.00 C310.20,167.88 311.24,171.23 312.00,171.00 C312.76,170.77 314.61,168.39 315.30,166.00 C315.99,163.61 317.35,151.20 317.90,150.50 C318.45,149.80 319.55,158.34 320.00,160.00 C320.45,161.66 321.15,164.47 321.80,164.70 C322.45,164.93 324.85,161.91 325.60,162.00 C326.35,162.09 327.57,164.57 328.20,165.50 C328.83,166.43 330.09,169.07 331.00,170.00 C331.91,170.93 333.99,173.08 336.00,173.50 C338.01,173.92 346.78,173.59 348.20,173.60" fill="none" stroke="#545766" stroke-width="0.7" stroke-linejoin="round"/></g>
<rect x="206" y="30.9" width="7.4" height="10.4" fill="#9b9daa" stroke="#545766" stroke-width="0.9"/>
<text x="216.9" y="38.8" font-size="8.1" fill="#66687a" textLength="34.4" lengthAdjust="spacingAndGlyphs" stroke="#66687a" stroke-width="0.06">Untreated</text>
<rect x="271.3" y="30.9" width="7.8" height="10.4" fill="#e77873" stroke="#b51f3a" stroke-width="0.9"/>
<text x="284" y="38.8" font-size="8.1" fill="#a83450" textLength="17.4" lengthAdjust="spacingAndGlyphs" stroke="#a83450" stroke-width="0.06">A2Fc</text>
<line x1="198.8" y1="149.2" x2="259.0" y2="149.2" stroke="#333" stroke-width="1.1"/>
<line x1="259.0" y1="145.7" x2="259.0" y2="159.3" stroke="#333" stroke-width="1.1"/>
<line x1="259.0" y1="156.3" x2="349.2" y2="156.3" stroke="#333" stroke-width="1.1"/>
<text x="224.1" y="87.8" font-size="7.7" fill="#231f20" textLength="27.6" lengthAdjust="spacingAndGlyphs" stroke="#231f20" stroke-width="0.06">7-AAD–</text>
<text x="278.2" y="139.6" font-size="7.7" fill="#231f20" textLength="28.6" lengthAdjust="spacingAndGlyphs" stroke="#231f20" stroke-width="0.06">7-AAD+</text>
<rect x="360.8" y="23.9" width="150.2" height="149.7" fill="none" stroke="#1f1f1f" stroke-width="1.3"/>
<line x1="358.0" y1="174.00" x2="360.8" y2="174.00" stroke="#1f1f1f" stroke-width="0.9"/>
<line x1="359.0" y1="166.50" x2="360.8" y2="166.50" stroke="#1f1f1f" stroke-width="0.9"/>
<line x1="359.0" y1="159.00" x2="360.8" y2="159.00" stroke="#1f1f1f" stroke-width="0.9"/>
<line x1="359.0" y1="151.50" x2="360.8" y2="151.50" stroke="#1f1f1f" stroke-width="0.9"/>
<line x1="358.0" y1="144.00" x2="360.8" y2="144.00" stroke="#1f1f1f" stroke-width="0.9"/>
<line x1="359.0" y1="136.50" x2="360.8" y2="136.50" stroke="#1f1f1f" stroke-width="0.9"/>
<line x1="359.0" y1="129.00" x2="360.8" y2="129.00" stroke="#1f1f1f" stroke-width="0.9"/>
<line x1="359.0" y1="121.50" x2="360.8" y2="121.50" stroke="#1f1f1f" stroke-width="0.9"/>
<line x1="358.0" y1="114.00" x2="360.8" y2="114.00" stroke="#1f1f1f" stroke-width="0.9"/>
<line x1="359.0" y1="106.50" x2="360.8" y2="106.50" stroke="#1f1f1f" stroke-width="0.9"/>
<line x1="359.0" y1="99.00" x2="360.8" y2="99.00" stroke="#1f1f1f" stroke-width="0.9"/>
<line x1="359.0" y1="91.50" x2="360.8" y2="91.50" stroke="#1f1f1f" stroke-width="0.9"/>
<line x1="358.0" y1="84.00" x2="360.8" y2="84.00" stroke="#1f1f1f" stroke-width="0.9"/>
<line x1="359.0" y1="76.50" x2="360.8" y2="76.50" stroke="#1f1f1f" stroke-width="0.9"/>
<line x1="359.0" y1="69.00" x2="360.8" y2="69.00" stroke="#1f1f1f" stroke-width="0.9"/>
<line x1="359.0" y1="61.50" x2="360.8" y2="61.50" stroke="#1f1f1f" stroke-width="0.9"/>
<line x1="358.0" y1="54.00" x2="360.8" y2="54.00" stroke="#1f1f1f" stroke-width="0.9"/>
<line x1="359.0" y1="46.50" x2="360.8" y2="46.50" stroke="#1f1f1f" stroke-width="0.9"/>
<line x1="359.0" y1="39.00" x2="360.8" y2="39.00" stroke="#1f1f1f" stroke-width="0.9"/>
<line x1="359.0" y1="31.50" x2="360.8" y2="31.50" stroke="#1f1f1f" stroke-width="0.9"/>
<line x1="358.0" y1="24.00" x2="360.8" y2="24.00" stroke="#1f1f1f" stroke-width="0.9"/>
<line x1="379.68" y1="173.6" x2="379.68" y2="175.0" stroke="#1f1f1f" stroke-width="0.8"/>
<line x1="383.61" y1="173.6" x2="383.61" y2="175.0" stroke="#1f1f1f" stroke-width="0.8"/>
<line x1="386.82" y1="173.6" x2="386.82" y2="175.0" stroke="#1f1f1f" stroke-width="0.8"/>
<line x1="389.53" y1="173.6" x2="389.53" y2="175.0" stroke="#1f1f1f" stroke-width="0.8"/>
<line x1="391.88" y1="173.6" x2="391.88" y2="175.0" stroke="#1f1f1f" stroke-width="0.8"/>
<line x1="393.95" y1="173.6" x2="393.95" y2="175.0" stroke="#1f1f1f" stroke-width="0.8"/>
<line x1="395.80" y1="173.6" x2="395.80" y2="176.0" stroke="#1f1f1f" stroke-width="0.8"/>
<line x1="407.99" y1="173.6" x2="407.99" y2="175.0" stroke="#1f1f1f" stroke-width="0.8"/>
<line x1="415.12" y1="173.6" x2="415.12" y2="175.0" stroke="#1f1f1f" stroke-width="0.8"/>
<line x1="420.18" y1="173.6" x2="420.18" y2="175.0" stroke="#1f1f1f" stroke-width="0.8"/>
<line x1="424.11" y1="173.6" x2="424.11" y2="175.0" stroke="#1f1f1f" stroke-width="0.8"/>
<line x1="427.32" y1="173.6" x2="427.32" y2="175.0" stroke="#1f1f1f" stroke-width="0.8"/>
<line x1="430.03" y1="173.6" x2="430.03" y2="175.0" stroke="#1f1f1f" stroke-width="0.8"/>
<line x1="432.38" y1="173.6" x2="432.38" y2="175.0" stroke="#1f1f1f" stroke-width="0.8"/>
<line x1="434.45" y1="173.6" x2="434.45" y2="175.0" stroke="#1f1f1f" stroke-width="0.8"/>
<line x1="436.30" y1="173.6" x2="436.30" y2="176.0" stroke="#1f1f1f" stroke-width="0.8"/>
<line x1="448.49" y1="173.6" x2="448.49" y2="175.0" stroke="#1f1f1f" stroke-width="0.8"/>
<line x1="455.62" y1="173.6" x2="455.62" y2="175.0" stroke="#1f1f1f" stroke-width="0.8"/>
<line x1="460.68" y1="173.6" x2="460.68" y2="175.0" stroke="#1f1f1f" stroke-width="0.8"/>
<line x1="464.61" y1="173.6" x2="464.61" y2="175.0" stroke="#1f1f1f" stroke-width="0.8"/>
<line x1="467.82" y1="173.6" x2="467.82" y2="175.0" stroke="#1f1f1f" stroke-width="0.8"/>
<line x1="470.53" y1="173.6" x2="470.53" y2="175.0" stroke="#1f1f1f" stroke-width="0.8"/>
<line x1="472.88" y1="173.6" x2="472.88" y2="175.0" stroke="#1f1f1f" stroke-width="0.8"/>
<line x1="474.95" y1="173.6" x2="474.95" y2="175.0" stroke="#1f1f1f" stroke-width="0.8"/>
<line x1="476.80" y1="173.6" x2="476.80" y2="176.0" stroke="#1f1f1f" stroke-width="0.8"/>
<line x1="488.99" y1="173.6" x2="488.99" y2="175.0" stroke="#1f1f1f" stroke-width="0.8"/>
<line x1="496.12" y1="173.6" x2="496.12" y2="175.0" stroke="#1f1f1f" stroke-width="0.8"/>
<line x1="501.18" y1="173.6" x2="501.18" y2="175.0" stroke="#1f1f1f" stroke-width="0.8"/>
<line x1="505.11" y1="173.6" x2="505.11" y2="175.0" stroke="#1f1f1f" stroke-width="0.8"/>
<line x1="508.32" y1="173.6" x2="508.32" y2="175.0" stroke="#1f1f1f" stroke-width="0.8"/>
<line x1="378.80" y1="173.6" x2="378.80" y2="175.79999999999998" stroke="#1f1f1f" stroke-width="0.8"/>
<line x1="381.00" y1="173.6" x2="381.00" y2="175.79999999999998" stroke="#1f1f1f" stroke-width="0.8"/>
<line x1="383.20" y1="173.6" x2="383.20" y2="175.79999999999998" stroke="#1f1f1f" stroke-width="0.8"/>
<line x1="385.40" y1="173.6" x2="385.40" y2="175.79999999999998" stroke="#1f1f1f" stroke-width="0.8"/>
<line x1="387.60" y1="173.6" x2="387.60" y2="175.79999999999998" stroke="#1f1f1f" stroke-width="0.8"/>
<line x1="389.80" y1="173.6" x2="389.80" y2="175.79999999999998" stroke="#1f1f1f" stroke-width="0.8"/>
<g><path d="M363.80,173.6 L363.80,173.60 C364.76,173.60 370.05,174.19 372.00,173.60 C373.95,173.00 378.87,170.55 380.50,168.50 C382.13,166.45 384.89,159.23 386.00,156.00 C387.11,152.77 389.21,144.18 390.00,140.80 C390.79,137.42 392.39,129.33 392.80,127.00 C393.21,124.67 393.24,122.78 393.50,120.80 C393.76,118.82 394.45,111.89 395.00,110.00 C395.55,108.11 397.48,104.25 398.20,104.60 C398.92,104.95 400.64,110.39 401.20,113.00 C401.76,115.61 402.56,123.58 403.00,127.00 C403.44,130.42 404.51,139.08 405.00,142.30 C405.49,145.52 406.56,152.09 407.20,154.60 C407.84,157.11 409.50,162.00 410.50,163.80 C411.50,165.60 414.46,169.28 415.80,170.00 C417.14,170.72 420.38,170.27 422.00,170.00 C423.62,169.73 428.09,168.24 429.70,167.70 C431.31,167.16 434.37,165.40 435.80,165.40 C437.24,165.40 440.65,167.26 442.00,167.70 C443.35,168.14 446.06,168.84 447.40,169.20 C448.74,169.56 451.17,170.80 453.50,170.80 C455.83,170.80 465.07,169.47 467.40,169.20 C469.73,168.93 472.52,169.75 473.50,168.50 C474.48,167.25 475.31,160.31 475.80,158.50 C476.29,156.69 477.25,153.18 477.70,153.00 C478.15,152.82 479.20,155.48 479.70,157.00 C480.20,158.52 481.38,165.11 482.00,166.00 C482.62,166.89 484.42,164.67 485.00,164.60 C485.58,164.53 486.45,164.86 487.00,165.40 C487.55,165.94 489.12,168.24 489.70,169.20 C490.28,170.16 489.63,173.09 492.00,173.60 C494.37,174.11 507.90,173.60 510.00,173.60 L510.00,173.6 Z" fill="#9b9daa" fill-opacity="1.0" stroke="none"/>
<path d="M363.80,173.60 C364.76,173.60 370.05,174.19 372.00,173.60 C373.95,173.00 378.87,170.55 380.50,168.50 C382.13,166.45 384.89,159.23 386.00,156.00 C387.11,152.77 389.21,144.18 390.00,140.80 C390.79,137.42 392.39,129.33 392.80,127.00 C393.21,124.67 393.24,122.78 393.50,120.80 C393.76,118.82 394.45,111.89 395.00,110.00 C395.55,108.11 397.48,104.25 398.20,104.60 C398.92,104.95 400.64,110.39 401.20,113.00 C401.76,115.61 402.56,123.58 403.00,127.00 C403.44,130.42 404.51,139.08 405.00,142.30 C405.49,145.52 406.56,152.09 407.20,154.60 C407.84,157.11 409.50,162.00 410.50,163.80 C411.50,165.60 414.46,169.28 415.80,170.00 C417.14,170.72 420.38,170.27 422.00,170.00 C423.62,169.73 428.09,168.24 429.70,167.70 C431.31,167.16 434.37,165.40 435.80,165.40 C437.24,165.40 440.65,167.26 442.00,167.70 C443.35,168.14 446.06,168.84 447.40,169.20 C448.74,169.56 451.17,170.80 453.50,170.80 C455.83,170.80 465.07,169.47 467.40,169.20 C469.73,168.93 472.52,169.75 473.50,168.50 C474.48,167.25 475.31,160.31 475.80,158.50 C476.29,156.69 477.25,153.18 477.70,153.00 C478.15,152.82 479.20,155.48 479.70,157.00 C480.20,158.52 481.38,165.11 482.00,166.00 C482.62,166.89 484.42,164.67 485.00,164.60 C485.58,164.53 486.45,164.86 487.00,165.40 C487.55,165.94 489.12,168.24 489.70,169.20 C490.28,170.16 489.63,173.09 492.00,173.60 C494.37,174.11 507.90,173.60 510.00,173.60" fill="none" stroke="#545766" stroke-width="0.9" stroke-linejoin="round"/></g>
<g><path d="M363.80,173.6 L363.80,173.60 C364.76,173.60 370.77,173.62 372.00,173.60 C373.23,173.58 373.31,174.00 374.30,173.40 C375.29,172.81 379.13,170.53 380.50,168.50 C381.87,166.47 384.89,159.23 386.00,156.00 C387.11,152.77 389.21,144.18 390.00,140.80 C390.79,137.42 392.22,129.69 392.80,127.00 C393.38,124.30 394.46,119.05 395.00,117.70 C395.54,116.35 396.85,115.31 397.40,115.40 C397.95,115.49 399.13,116.97 399.70,118.50 C400.27,120.03 401.68,125.72 402.30,128.50 C402.92,131.28 404.43,139.26 405.00,142.30 C405.57,145.34 406.56,152.09 407.20,154.60 C407.84,157.11 409.50,162.00 410.50,163.80 C411.50,165.60 414.46,169.28 415.80,170.00 C417.14,170.72 420.38,170.27 422.00,170.00 C423.62,169.73 428.09,168.24 429.70,167.70 C431.31,167.16 434.37,165.40 435.80,165.40 C437.24,165.40 440.65,167.26 442.00,167.70 C443.35,168.14 446.06,168.84 447.40,169.20 C448.74,169.56 451.17,170.80 453.50,170.80 C455.83,170.80 465.07,169.47 467.40,169.20 C469.73,168.93 472.52,169.75 473.50,168.50 C474.48,167.25 475.31,160.31 475.80,158.50 C476.29,156.69 477.25,153.18 477.70,153.00 C478.15,152.82 479.20,155.48 479.70,157.00 C480.20,158.52 481.38,165.11 482.00,166.00 C482.62,166.89 484.42,164.67 485.00,164.60 C485.58,164.53 486.45,164.86 487.00,165.40 C487.55,165.94 489.12,168.24 489.70,169.20 C490.28,170.16 489.63,173.09 492.00,173.60 C494.37,174.11 507.90,173.60 510.00,173.60 L510.00,173.6 Z" fill="#c25d5f" fill-opacity="1.0" stroke="none"/>
<path d="M363.80,173.60 C364.76,173.60 370.77,173.62 372.00,173.60 C373.23,173.58 373.31,174.00 374.30,173.40 C375.29,172.81 379.13,170.53 380.50,168.50 C381.87,166.47 384.89,159.23 386.00,156.00 C387.11,152.77 389.21,144.18 390.00,140.80 C390.79,137.42 392.22,129.69 392.80,127.00 C393.38,124.30 394.46,119.05 395.00,117.70 C395.54,116.35 396.85,115.31 397.40,115.40 C397.95,115.49 399.13,116.97 399.70,118.50 C400.27,120.03 401.68,125.72 402.30,128.50 C402.92,131.28 404.43,139.26 405.00,142.30 C405.57,145.34 406.56,152.09 407.20,154.60 C407.84,157.11 409.50,162.00 410.50,163.80 C411.50,165.60 414.46,169.28 415.80,170.00 C417.14,170.72 420.38,170.27 422.00,170.00 C423.62,169.73 428.09,168.24 429.70,167.70 C431.31,167.16 434.37,165.40 435.80,165.40 C437.24,165.40 440.65,167.26 442.00,167.70 C443.35,168.14 446.06,168.84 447.40,169.20 C448.74,169.56 451.17,170.80 453.50,170.80 C455.83,170.80 465.07,169.47 467.40,169.20 C469.73,168.93 472.52,169.75 473.50,168.50 C474.48,167.25 475.31,160.31 475.80,158.50 C476.29,156.69 477.25,153.18 477.70,153.00 C478.15,152.82 479.20,155.48 479.70,157.00 C480.20,158.52 481.38,165.11 482.00,166.00 C482.62,166.89 484.42,164.67 485.00,164.60 C485.58,164.53 486.45,164.86 487.00,165.40 C487.55,165.94 489.12,168.24 489.70,169.20 C490.28,170.16 489.63,173.09 492.00,173.60 C494.37,174.11 507.90,173.60 510.00,173.60" fill="none" stroke="#a51d36" stroke-width="1.1" stroke-linejoin="round"/></g>
<rect x="369.9" y="30.9" width="7.4" height="10.4" fill="#9b9daa" stroke="#545766" stroke-width="0.9"/>
<text x="380.7" y="38.8" font-size="8.1" fill="#66687a" textLength="34.4" lengthAdjust="spacingAndGlyphs" stroke="#66687a" stroke-width="0.06">Untreated</text>
<rect x="435.2" y="30.9" width="7.8" height="10.4" fill="#e77873" stroke="#b51f3a" stroke-width="0.9"/>
<text x="448.2" y="38.8" font-size="8.1" fill="#a83450" textLength="17.4" lengthAdjust="spacingAndGlyphs" stroke="#a83450" stroke-width="0.06">A2Fc</text>
<line x1="360.8" y1="139.0" x2="414.6" y2="139.0" stroke="#333" stroke-width="1.1"/>
<line x1="414.6" y1="135.5" x2="414.6" y2="149.5" stroke="#333" stroke-width="1.1"/>
<line x1="414.6" y1="146.5" x2="511.0" y2="146.5" stroke="#333" stroke-width="1.1"/>
<text x="383.2" y="88.0" font-size="7.7" fill="#231f20" textLength="27.6" lengthAdjust="spacingAndGlyphs" stroke="#231f20" stroke-width="0.06">7-AAD–</text>
<text x="436.7" y="139.4" font-size="7.7" fill="#231f20" textLength="28.6" lengthAdjust="spacingAndGlyphs" stroke="#231f20" stroke-width="0.06">7-AAD+</text>
<rect x="38.2" y="186.0" width="150.39999999999998" height="150.0" fill="none" stroke="#1f1f1f" stroke-width="1.3"/>
<line x1="35.400000000000006" y1="336.00" x2="38.2" y2="336.00" stroke="#1f1f1f" stroke-width="0.9"/>
<line x1="36.400000000000006" y1="328.50" x2="38.2" y2="328.50" stroke="#1f1f1f" stroke-width="0.9"/>
<line x1="36.400000000000006" y1="321.00" x2="38.2" y2="321.00" stroke="#1f1f1f" stroke-width="0.9"/>
<line x1="36.400000000000006" y1="313.50" x2="38.2" y2="313.50" stroke="#1f1f1f" stroke-width="0.9"/>
<line x1="35.400000000000006" y1="306.00" x2="38.2" y2="306.00" stroke="#1f1f1f" stroke-width="0.9"/>
<line x1="36.400000000000006" y1="298.50" x2="38.2" y2="298.50" stroke="#1f1f1f" stroke-width="0.9"/>
<line x1="36.400000000000006" y1="291.00" x2="38.2" y2="291.00" stroke="#1f1f1f" stroke-width="0.9"/>
<line x1="36.400000000000006" y1="283.50" x2="38.2" y2="283.50" stroke="#1f1f1f" stroke-width="0.9"/>
<line x1="35.400000000000006" y1="276.00" x2="38.2" y2="276.00" stroke="#1f1f1f" stroke-width="0.9"/>
<line x1="36.400000000000006" y1="268.50" x2="38.2" y2="268.50" stroke="#1f1f1f" stroke-width="0.9"/>
<line x1="36.400000000000006" y1="261.00" x2="38.2" y2="261.00" stroke="#1f1f1f" stroke-width="0.9"/>
<line x1="36.400000000000006" y1="253.50" x2="38.2" y2="253.50" stroke="#1f1f1f" stroke-width="0.9"/>
<line x1="35.400000000000006" y1="246.00" x2="38.2" y2="246.00" stroke="#1f1f1f" stroke-width="0.9"/>
<line x1="36.400000000000006" y1="238.50" x2="38.2" y2="238.50" stroke="#1f1f1f" stroke-width="0.9"/>
<line x1="36.400000000000006" y1="231.00" x2="38.2" y2="231.00" stroke="#1f1f1f" stroke-width="0.9"/>
<line x1="36.400000000000006" y1="223.50" x2="38.2" y2="223.50" stroke="#1f1f1f" stroke-width="0.9"/>
<line x1="35.400000000000006" y1="216.00" x2="38.2" y2="216.00" stroke="#1f1f1f" stroke-width="0.9"/>
<line x1="36.400000000000006" y1="208.50" x2="38.2" y2="208.50" stroke="#1f1f1f" stroke-width="0.9"/>
<line x1="36.400000000000006" y1="201.00" x2="38.2" y2="201.00" stroke="#1f1f1f" stroke-width="0.9"/>
<line x1="36.400000000000006" y1="193.50" x2="38.2" y2="193.50" stroke="#1f1f1f" stroke-width="0.9"/>
<line x1="35.400000000000006" y1="186.00" x2="38.2" y2="186.00" stroke="#1f1f1f" stroke-width="0.9"/>
<line x1="57.08" y1="336.0" x2="57.08" y2="337.4" stroke="#1f1f1f" stroke-width="0.8"/>
<line x1="61.01" y1="336.0" x2="61.01" y2="337.4" stroke="#1f1f1f" stroke-width="0.8"/>
<line x1="64.22" y1="336.0" x2="64.22" y2="337.4" stroke="#1f1f1f" stroke-width="0.8"/>
<line x1="66.93" y1="336.0" x2="66.93" y2="337.4" stroke="#1f1f1f" stroke-width="0.8"/>
<line x1="69.28" y1="336.0" x2="69.28" y2="337.4" stroke="#1f1f1f" stroke-width="0.8"/>
<line x1="71.35" y1="336.0" x2="71.35" y2="337.4" stroke="#1f1f1f" stroke-width="0.8"/>
<line x1="73.20" y1="336.0" x2="73.20" y2="338.4" stroke="#1f1f1f" stroke-width="0.8"/>
<line x1="85.39" y1="336.0" x2="85.39" y2="337.4" stroke="#1f1f1f" stroke-width="0.8"/>
<line x1="92.52" y1="336.0" x2="92.52" y2="337.4" stroke="#1f1f1f" stroke-width="0.8"/>
<line x1="97.58" y1="336.0" x2="97.58" y2="337.4" stroke="#1f1f1f" stroke-width="0.8"/>
<line x1="101.51" y1="336.0" x2="101.51" y2="337.4" stroke="#1f1f1f" stroke-width="0.8"/>
<line x1="104.72" y1="336.0" x2="104.72" y2="337.4" stroke="#1f1f1f" stroke-width="0.8"/>
<line x1="107.43" y1="336.0" x2="107.43" y2="337.4" stroke="#1f1f1f" stroke-width="0.8"/>
<line x1="109.78" y1="336.0" x2="109.78" y2="337.4" stroke="#1f1f1f" stroke-width="0.8"/>
<line x1="111.85" y1="336.0" x2="111.85" y2="337.4" stroke="#1f1f1f" stroke-width="0.8"/>
<line x1="113.70" y1="336.0" x2="113.70" y2="338.4" stroke="#1f1f1f" stroke-width="0.8"/>
<line x1="125.89" y1="336.0" x2="125.89" y2="337.4" stroke="#1f1f1f" stroke-width="0.8"/>
<line x1="133.02" y1="336.0" x2="133.02" y2="337.4" stroke="#1f1f1f" stroke-width="0.8"/>
<line x1="138.08" y1="336.0" x2="138.08" y2="337.4" stroke="#1f1f1f" stroke-width="0.8"/>
<line x1="142.01" y1="336.0" x2="142.01" y2="337.4" stroke="#1f1f1f" stroke-width="0.8"/>
<line x1="145.22" y1="336.0" x2="145.22" y2="337.4" stroke="#1f1f1f" stroke-width="0.8"/>
<line x1="147.93" y1="336.0" x2="147.93" y2="337.4" stroke="#1f1f1f" stroke-width="0.8"/>
<line x1="150.28" y1="336.0" x2="150.28" y2="337.4" stroke="#1f1f1f" stroke-width="0.8"/>
<line x1="152.35" y1="336.0" x2="152.35" y2="337.4" stroke="#1f1f1f" stroke-width="0.8"/>
<line x1="154.20" y1="336.0" x2="154.20" y2="338.4" stroke="#1f1f1f" stroke-width="0.8"/>
<line x1="166.39" y1="336.0" x2="166.39" y2="337.4" stroke="#1f1f1f" stroke-width="0.8"/>
<line x1="173.52" y1="336.0" x2="173.52" y2="337.4" stroke="#1f1f1f" stroke-width="0.8"/>
<line x1="178.58" y1="336.0" x2="178.58" y2="337.4" stroke="#1f1f1f" stroke-width="0.8"/>
<line x1="182.51" y1="336.0" x2="182.51" y2="337.4" stroke="#1f1f1f" stroke-width="0.8"/>
<line x1="185.72" y1="336.0" x2="185.72" y2="337.4" stroke="#1f1f1f" stroke-width="0.8"/>
<line x1="56.20" y1="336.0" x2="56.20" y2="338.2" stroke="#1f1f1f" stroke-width="0.8"/>
<line x1="58.40" y1="336.0" x2="58.40" y2="338.2" stroke="#1f1f1f" stroke-width="0.8"/>
<line x1="60.60" y1="336.0" x2="60.60" y2="338.2" stroke="#1f1f1f" stroke-width="0.8"/>
<line x1="62.80" y1="336.0" x2="62.80" y2="338.2" stroke="#1f1f1f" stroke-width="0.8"/>
<line x1="65.00" y1="336.0" x2="65.00" y2="338.2" stroke="#1f1f1f" stroke-width="0.8"/>
<line x1="67.20" y1="336.0" x2="67.20" y2="338.2" stroke="#1f1f1f" stroke-width="0.8"/>
<g><path d="M38.50,336.0 L38.50,336.00 C39.84,336.00 48.08,336.02 50.00,336.00 C51.92,335.98 53.79,336.50 55.00,335.80 C56.21,335.10 59.47,331.20 60.40,330.00 C61.33,328.80 62.37,326.75 63.00,325.50 C63.63,324.25 65.22,320.99 65.80,319.30 C66.38,317.61 67.60,312.61 68.00,311.00 C68.40,309.39 68.92,307.23 69.20,305.50 C69.48,303.77 70.07,298.24 70.40,296.20 C70.73,294.16 71.64,289.80 72.00,288.00 C72.36,286.20 73.15,282.55 73.50,280.80 C73.85,279.05 74.64,274.80 75.00,273.00 C75.36,271.20 76.27,267.03 76.60,265.40 C76.93,263.77 77.53,260.07 77.80,259.00 C78.07,257.93 78.64,256.32 78.90,256.20 C79.16,256.08 79.73,257.32 80.00,258.00 C80.27,258.68 80.92,261.14 81.20,262.00 C81.48,262.86 82.11,264.12 82.40,265.40 C82.69,266.68 83.40,271.20 83.70,273.00 C84.00,274.80 84.71,279.05 85.00,280.80 C85.29,282.55 85.92,286.20 86.20,288.00 C86.48,289.80 87.13,294.33 87.40,296.20 C87.67,298.07 88.23,302.20 88.50,304.00 C88.77,305.80 89.35,309.91 89.70,311.60 C90.05,313.29 91.06,317.11 91.50,318.50 C91.94,319.89 92.73,322.22 93.50,323.50 C94.27,324.78 96.52,328.51 98.10,329.50 C99.67,330.49 104.91,331.67 107.00,332.00 C109.09,332.33 113.85,332.00 116.00,332.30 C118.15,332.60 123.07,334.29 125.40,334.60 C127.73,334.92 133.85,335.27 136.00,335.00 C138.15,334.73 141.99,332.62 143.80,332.30 C145.61,331.99 150.15,332.66 151.50,332.30 C152.85,331.94 154.58,329.82 155.40,329.20 C156.22,328.58 157.79,326.81 158.50,327.00 C159.21,327.19 160.88,330.36 161.50,330.80 C162.12,331.24 163.16,331.24 163.80,330.80 C164.44,330.36 166.37,327.09 167.00,327.00 C167.63,326.91 168.67,329.11 169.20,330.00 C169.72,330.89 171.06,333.90 171.50,334.60 C171.94,335.30 171.07,335.84 173.00,336.00 C174.93,336.16 186.25,336.00 188.00,336.00 L188.00,336.0 Z" fill="#9b9daa" fill-opacity="1.0" stroke="none"/>
<path d="M38.50,336.00 C39.84,336.00 48.08,336.02 50.00,336.00 C51.92,335.98 53.79,336.50 55.00,335.80 C56.21,335.10 59.47,331.20 60.40,330.00 C61.33,328.80 62.37,326.75 63.00,325.50 C63.63,324.25 65.22,320.99 65.80,319.30 C66.38,317.61 67.60,312.61 68.00,311.00 C68.40,309.39 68.92,307.23 69.20,305.50 C69.48,303.77 70.07,298.24 70.40,296.20 C70.73,294.16 71.64,289.80 72.00,288.00 C72.36,286.20 73.15,282.55 73.50,280.80 C73.85,279.05 74.64,274.80 75.00,273.00 C75.36,271.20 76.27,267.03 76.60,265.40 C76.93,263.77 77.53,260.07 77.80,259.00 C78.07,257.93 78.64,256.32 78.90,256.20 C79.16,256.08 79.73,257.32 80.00,258.00 C80.27,258.68 80.92,261.14 81.20,262.00 C81.48,262.86 82.11,264.12 82.40,265.40 C82.69,266.68 83.40,271.20 83.70,273.00 C84.00,274.80 84.71,279.05 85.00,280.80 C85.29,282.55 85.92,286.20 86.20,288.00 C86.48,289.80 87.13,294.33 87.40,296.20 C87.67,298.07 88.23,302.20 88.50,304.00 C88.77,305.80 89.35,309.91 89.70,311.60 C90.05,313.29 91.06,317.11 91.50,318.50 C91.94,319.89 92.73,322.22 93.50,323.50 C94.27,324.78 96.52,328.51 98.10,329.50 C99.67,330.49 104.91,331.67 107.00,332.00 C109.09,332.33 113.85,332.00 116.00,332.30 C118.15,332.60 123.07,334.29 125.40,334.60 C127.73,334.92 133.85,335.27 136.00,335.00 C138.15,334.73 141.99,332.62 143.80,332.30 C145.61,331.99 150.15,332.66 151.50,332.30 C152.85,331.94 154.58,329.82 155.40,329.20 C156.22,328.58 157.79,326.81 158.50,327.00 C159.21,327.19 160.88,330.36 161.50,330.80 C162.12,331.24 163.16,331.24 163.80,330.80 C164.44,330.36 166.37,327.09 167.00,327.00 C167.63,326.91 168.67,329.11 169.20,330.00 C169.72,330.89 171.06,333.90 171.50,334.60 C171.94,335.30 171.07,335.84 173.00,336.00 C174.93,336.16 186.25,336.00 188.00,336.00" fill="none" stroke="#545766" stroke-width="0.9" stroke-linejoin="round"/></g>
<g><path d="M38.50,336.0 L38.50,336.00 C39.84,336.00 48.08,336.02 50.00,336.00 C51.92,335.98 53.79,336.50 55.00,335.80 C56.21,335.10 59.47,331.20 60.40,330.00 C61.33,328.80 62.37,326.75 63.00,325.50 C63.63,324.25 65.22,320.99 65.80,319.30 C66.38,317.61 67.60,312.61 68.00,311.00 C68.40,309.39 68.92,307.23 69.20,305.50 C69.48,303.77 70.07,298.24 70.40,296.20 C70.73,294.16 71.64,289.80 72.00,288.00 C72.36,286.20 73.15,282.55 73.50,280.80 C73.85,279.05 74.64,274.80 75.00,273.00 C75.36,271.20 76.27,267.03 76.60,265.40 C76.93,263.77 77.53,260.07 77.80,259.00 C78.07,257.93 78.64,256.32 78.90,256.20 C79.16,256.08 79.73,257.32 80.00,258.00 C80.27,258.68 80.92,261.14 81.20,262.00 C81.48,262.86 82.11,264.12 82.40,265.40 C82.69,266.68 83.40,271.20 83.70,273.00 C84.00,274.80 84.71,279.05 85.00,280.80 C85.29,282.55 85.92,286.20 86.20,288.00 C86.48,289.80 87.13,294.33 87.40,296.20 C87.67,298.07 88.23,302.20 88.50,304.00 C88.77,305.80 89.35,309.91 89.70,311.60 C90.05,313.29 91.06,317.11 91.50,318.50 C91.94,319.89 92.73,322.22 93.50,323.50 C94.27,324.78 96.52,328.51 98.10,329.50 C99.67,330.49 104.91,331.67 107.00,332.00 C109.09,332.33 113.85,332.00 116.00,332.30 C118.15,332.60 123.07,334.29 125.40,334.60 C127.73,334.92 133.85,335.27 136.00,335.00 C138.15,334.73 141.99,332.62 143.80,332.30 C145.61,331.99 150.15,332.66 151.50,332.30 C152.85,331.94 154.58,329.82 155.40,329.20 C156.22,328.58 157.79,326.81 158.50,327.00 C159.21,327.19 160.88,330.36 161.50,330.80 C162.12,331.24 163.16,331.24 163.80,330.80 C164.44,330.36 166.37,327.09 167.00,327.00 C167.63,326.91 168.67,329.11 169.20,330.00 C169.72,330.89 171.06,333.90 171.50,334.60 C171.94,335.30 171.07,335.84 173.00,336.00 C174.93,336.16 186.25,336.00 188.00,336.00 L188.00,336.0 Z" fill="#d89b5d" fill-opacity="1.0" stroke="none"/>
<path d="M38.50,336.00 C39.84,336.00 48.08,336.02 50.00,336.00 C51.92,335.98 53.79,336.50 55.00,335.80 C56.21,335.10 59.47,331.20 60.40,330.00 C61.33,328.80 62.37,326.75 63.00,325.50 C63.63,324.25 65.22,320.99 65.80,319.30 C66.38,317.61 67.60,312.61 68.00,311.00 C68.40,309.39 68.92,307.23 69.20,305.50 C69.48,303.77 70.07,298.24 70.40,296.20 C70.73,294.16 71.64,289.80 72.00,288.00 C72.36,286.20 73.15,282.55 73.50,280.80 C73.85,279.05 74.64,274.80 75.00,273.00 C75.36,271.20 76.27,267.03 76.60,265.40 C76.93,263.77 77.53,260.07 77.80,259.00 C78.07,257.93 78.64,256.32 78.90,256.20 C79.16,256.08 79.73,257.32 80.00,258.00 C80.27,258.68 80.92,261.14 81.20,262.00 C81.48,262.86 82.11,264.12 82.40,265.40 C82.69,266.68 83.40,271.20 83.70,273.00 C84.00,274.80 84.71,279.05 85.00,280.80 C85.29,282.55 85.92,286.20 86.20,288.00 C86.48,289.80 87.13,294.33 87.40,296.20 C87.67,298.07 88.23,302.20 88.50,304.00 C88.77,305.80 89.35,309.91 89.70,311.60 C90.05,313.29 91.06,317.11 91.50,318.50 C91.94,319.89 92.73,322.22 93.50,323.50 C94.27,324.78 96.52,328.51 98.10,329.50 C99.67,330.49 104.91,331.67 107.00,332.00 C109.09,332.33 113.85,332.00 116.00,332.30 C118.15,332.60 123.07,334.29 125.40,334.60 C127.73,334.92 133.85,335.27 136.00,335.00 C138.15,334.73 141.99,332.62 143.80,332.30 C145.61,331.99 150.15,332.66 151.50,332.30 C152.85,331.94 154.58,329.82 155.40,329.20 C156.22,328.58 157.79,326.81 158.50,327.00 C159.21,327.19 160.88,330.36 161.50,330.80 C162.12,331.24 163.16,331.24 163.80,330.80 C164.44,330.36 166.37,327.09 167.00,327.00 C167.63,326.91 168.67,329.11 169.20,330.00 C169.72,330.89 171.06,333.90 171.50,334.60 C171.94,335.30 171.07,335.84 173.00,336.00 C174.93,336.16 186.25,336.00 188.00,336.00" fill="none" stroke="#eda030" stroke-width="0.9" stroke-linejoin="round"/></g>
<rect x="42.2" y="198.8" width="7.4" height="10.4" fill="#9b9daa" stroke="#545766" stroke-width="0.9"/>
<text x="53.2" y="206.7" font-size="8.1" fill="#66687a" textLength="34.4" lengthAdjust="spacingAndGlyphs" stroke="#66687a" stroke-width="0.06">Untreated</text>
<rect x="106.8" y="198.8" width="7.8" height="10.4" fill="#f2b468" stroke="#eda030" stroke-width="0.9"/>
<text x="120.0" y="206.7" font-size="8.1" fill="#eaa035" textLength="50.0" lengthAdjust="spacingAndGlyphs" stroke="#eaa035" stroke-width="0.06">A2Fc-LALAPG</text>
<line x1="38.2" y1="306.0" x2="95.0" y2="306.0" stroke="#333" stroke-width="1.1"/>
<line x1="95.0" y1="302.5" x2="95.0" y2="316.4" stroke="#333" stroke-width="1.1"/>
<line x1="95.0" y1="313.4" x2="188.6" y2="313.4" stroke="#333" stroke-width="1.1"/>
<text x="55.3" y="251.6" font-size="7.7" fill="#231f20" textLength="27.6" lengthAdjust="spacingAndGlyphs" stroke="#231f20" stroke-width="0.06">7-AAD–</text>
<text x="108.7" y="295.6" font-size="7.7" fill="#231f20" textLength="28.6" lengthAdjust="spacingAndGlyphs" stroke="#231f20" stroke-width="0.06">7-AAD+</text>
<rect x="198.8" y="186.0" width="150.39999999999998" height="150.0" fill="none" stroke="#1f1f1f" stroke-width="1.3"/>
<line x1="196.0" y1="336.00" x2="198.8" y2="336.00" stroke="#1f1f1f" stroke-width="0.9"/>
<line x1="197.0" y1="328.50" x2="198.8" y2="328.50" stroke="#1f1f1f" stroke-width="0.9"/>
<line x1="197.0" y1="321.00" x2="198.8" y2="321.00" stroke="#1f1f1f" stroke-width="0.9"/>
<line x1="197.0" y1="313.50" x2="198.8" y2="313.50" stroke="#1f1f1f" stroke-width="0.9"/>
<line x1="196.0" y1="306.00" x2="198.8" y2="306.00" stroke="#1f1f1f" stroke-width="0.9"/>
<line x1="197.0" y1="298.50" x2="198.8" y2="298.50" stroke="#1f1f1f" stroke-width="0.9"/>
<line x1="197.0" y1="291.00" x2="198.8" y2="291.00" stroke="#1f1f1f" stroke-width="0.9"/>
<line x1="197.0" y1="283.50" x2="198.8" y2="283.50" stroke="#1f1f1f" stroke-width="0.9"/>
<line x1="196.0" y1="276.00" x2="198.8" y2="276.00" stroke="#1f1f1f" stroke-width="0.9"/>
<line x1="197.0" y1="268.50" x2="198.8" y2="268.50" stroke="#1f1f1f" stroke-width="0.9"/>
<line x1="197.0" y1="261.00" x2="198.8" y2="261.00" stroke="#1f1f1f" stroke-width="0.9"/>
<line x1="197.0" y1="253.50" x2="198.8" y2="253.50" stroke="#1f1f1f" stroke-width="0.9"/>
<line x1="196.0" y1="246.00" x2="198.8" y2="246.00" stroke="#1f1f1f" stroke-width="0.9"/>
<line x1="197.0" y1="238.50" x2="198.8" y2="238.50" stroke="#1f1f1f" stroke-width="0.9"/>
<line x1="197.0" y1="231.00" x2="198.8" y2="231.00" stroke="#1f1f1f" stroke-width="0.9"/>
<line x1="197.0" y1="223.50" x2="198.8" y2="223.50" stroke="#1f1f1f" stroke-width="0.9"/>
<line x1="196.0" y1="216.00" x2="198.8" y2="216.00" stroke="#1f1f1f" stroke-width="0.9"/>
<line x1="197.0" y1="208.50" x2="198.8" y2="208.50" stroke="#1f1f1f" stroke-width="0.9"/>
<line x1="197.0" y1="201.00" x2="198.8" y2="201.00" stroke="#1f1f1f" stroke-width="0.9"/>
<line x1="197.0" y1="193.50" x2="198.8" y2="193.50" stroke="#1f1f1f" stroke-width="0.9"/>
<line x1="196.0" y1="186.00" x2="198.8" y2="186.00" stroke="#1f1f1f" stroke-width="0.9"/>
<line x1="217.68" y1="336.0" x2="217.68" y2="337.4" stroke="#1f1f1f" stroke-width="0.8"/>
<line x1="221.61" y1="336.0" x2="221.61" y2="337.4" stroke="#1f1f1f" stroke-width="0.8"/>
<line x1="224.82" y1="336.0" x2="224.82" y2="337.4" stroke="#1f1f1f" stroke-width="0.8"/>
<line x1="227.53" y1="336.0" x2="227.53" y2="337.4" stroke="#1f1f1f" stroke-width="0.8"/>
<line x1="229.88" y1="336.0" x2="229.88" y2="337.4" stroke="#1f1f1f" stroke-width="0.8"/>
<line x1="231.95" y1="336.0" x2="231.95" y2="337.4" stroke="#1f1f1f" stroke-width="0.8"/>
<line x1="233.80" y1="336.0" x2="233.80" y2="338.4" stroke="#1f1f1f" stroke-width="0.8"/>
<line x1="245.99" y1="336.0" x2="245.99" y2="337.4" stroke="#1f1f1f" stroke-width="0.8"/>
<line x1="253.12" y1="336.0" x2="253.12" y2="337.4" stroke="#1f1f1f" stroke-width="0.8"/>
<line x1="258.18" y1="336.0" x2="258.18" y2="337.4" stroke="#1f1f1f" stroke-width="0.8"/>
<line x1="262.11" y1="336.0" x2="262.11" y2="337.4" stroke="#1f1f1f" stroke-width="0.8"/>
<line x1="265.32" y1="336.0" x2="265.32" y2="337.4" stroke="#1f1f1f" stroke-width="0.8"/>
<line x1="268.03" y1="336.0" x2="268.03" y2="337.4" stroke="#1f1f1f" stroke-width="0.8"/>
<line x1="270.38" y1="336.0" x2="270.38" y2="337.4" stroke="#1f1f1f" stroke-width="0.8"/>
<line x1="272.45" y1="336.0" x2="272.45" y2="337.4" stroke="#1f1f1f" stroke-width="0.8"/>
<line x1="274.30" y1="336.0" x2="274.30" y2="338.4" stroke="#1f1f1f" stroke-width="0.8"/>
<line x1="286.49" y1="336.0" x2="286.49" y2="337.4" stroke="#1f1f1f" stroke-width="0.8"/>
<line x1="293.62" y1="336.0" x2="293.62" y2="337.4" stroke="#1f1f1f" stroke-width="0.8"/>
<line x1="298.68" y1="336.0" x2="298.68" y2="337.4" stroke="#1f1f1f" stroke-width="0.8"/>
<line x1="302.61" y1="336.0" x2="302.61" y2="337.4" stroke="#1f1f1f" stroke-width="0.8"/>
<line x1="305.82" y1="336.0" x2="305.82" y2="337.4" stroke="#1f1f1f" stroke-width="0.8"/>
<line x1="308.53" y1="336.0" x2="308.53" y2="337.4" stroke="#1f1f1f" stroke-width="0.8"/>
<line x1="310.88" y1="336.0" x2="310.88" y2="337.4" stroke="#1f1f1f" stroke-width="0.8"/>
<line x1="312.95" y1="336.0" x2="312.95" y2="337.4" stroke="#1f1f1f" stroke-width="0.8"/>
<line x1="314.80" y1="336.0" x2="314.80" y2="338.4" stroke="#1f1f1f" stroke-width="0.8"/>
<line x1="326.99" y1="336.0" x2="326.99" y2="337.4" stroke="#1f1f1f" stroke-width="0.8"/>
<line x1="334.12" y1="336.0" x2="334.12" y2="337.4" stroke="#1f1f1f" stroke-width="0.8"/>
<line x1="339.18" y1="336.0" x2="339.18" y2="337.4" stroke="#1f1f1f" stroke-width="0.8"/>
<line x1="343.11" y1="336.0" x2="343.11" y2="337.4" stroke="#1f1f1f" stroke-width="0.8"/>
<line x1="346.32" y1="336.0" x2="346.32" y2="337.4" stroke="#1f1f1f" stroke-width="0.8"/>
<line x1="216.80" y1="336.0" x2="216.80" y2="338.2" stroke="#1f1f1f" stroke-width="0.8"/>
<line x1="219.00" y1="336.0" x2="219.00" y2="338.2" stroke="#1f1f1f" stroke-width="0.8"/>
<line x1="221.20" y1="336.0" x2="221.20" y2="338.2" stroke="#1f1f1f" stroke-width="0.8"/>
<line x1="223.40" y1="336.0" x2="223.40" y2="338.2" stroke="#1f1f1f" stroke-width="0.8"/>
<line x1="225.60" y1="336.0" x2="225.60" y2="338.2" stroke="#1f1f1f" stroke-width="0.8"/>
<line x1="227.80" y1="336.0" x2="227.80" y2="338.2" stroke="#1f1f1f" stroke-width="0.8"/>
<g><path d="M199.50,336.0 L199.50,336.00 C200.72,336.00 208.24,336.00 210.00,336.00 C211.76,336.00 213.67,336.18 214.60,336.00 C215.53,335.82 217.25,334.97 218.00,334.50 C218.75,334.03 220.25,332.99 221.00,332.00 C221.75,331.01 223.59,327.63 224.40,326.00 C225.21,324.37 227.09,319.75 227.90,318.00 C228.71,316.25 230.62,312.75 231.30,311.00 C231.98,309.25 233.27,304.52 233.70,303.00 C234.13,301.48 234.70,299.07 235.00,298.00 C235.30,296.93 235.95,294.68 236.30,293.80 C236.65,292.93 237.59,290.97 238.00,290.50 C238.41,290.03 239.43,289.62 239.80,289.80 C240.17,289.98 240.84,291.53 241.20,292.00 C241.56,292.47 242.50,293.22 242.90,293.80 C243.30,294.38 244.20,296.18 244.60,297.00 C245.00,297.82 245.93,299.87 246.30,300.80 C246.67,301.73 247.46,303.93 247.80,305.00 C248.14,306.07 248.83,308.89 249.20,310.00 C249.57,311.11 250.59,313.57 251.00,314.50 C251.41,315.43 252.29,317.18 252.70,318.00 C253.11,318.82 254.09,320.82 254.50,321.50 C254.91,322.18 255.73,323.36 256.20,323.80 C256.67,324.24 257.96,325.04 258.50,325.30 C259.04,325.56 260.09,325.86 260.80,326.00 C261.51,326.14 263.80,326.52 264.60,326.50 C265.41,326.48 266.72,326.15 267.70,325.80 C268.68,325.45 271.74,323.42 273.00,323.50 C274.26,323.58 277.15,325.79 278.50,326.50 C279.85,327.21 283.17,328.88 284.60,329.60 C286.04,330.32 289.35,332.25 290.80,332.70 C292.25,333.15 295.58,333.50 297.00,333.50 C298.42,333.50 301.58,333.06 303.00,332.70 C304.42,332.34 307.85,331.12 309.20,330.40 C310.55,329.68 313.61,327.48 314.60,326.50 C315.59,325.52 317.16,323.97 317.70,322.00 C318.24,320.03 318.93,311.23 319.20,309.60 C319.47,307.97 319.77,307.72 320.00,308.00 C320.23,308.28 320.87,310.46 321.20,312.00 C321.53,313.54 322.31,319.95 322.80,321.20 C323.29,322.45 324.83,322.61 325.40,322.70 C325.97,322.79 327.16,322.36 327.70,322.00 C328.24,321.64 329.56,319.43 330.00,319.60 C330.44,319.78 331.15,321.88 331.50,323.50 C331.85,325.12 332.64,332.04 333.00,333.50 C333.36,334.96 332.73,335.71 334.60,336.00 C336.47,336.29 347.32,336.00 349.00,336.00 L349.00,336.0 Z" fill="#69a6d1" fill-opacity="1.0" stroke="none"/>
<path d="M199.50,336.00 C200.72,336.00 208.24,336.00 210.00,336.00 C211.76,336.00 213.67,336.18 214.60,336.00 C215.53,335.82 217.25,334.97 218.00,334.50 C218.75,334.03 220.25,332.99 221.00,332.00 C221.75,331.01 223.59,327.63 224.40,326.00 C225.21,324.37 227.09,319.75 227.90,318.00 C228.71,316.25 230.62,312.75 231.30,311.00 C231.98,309.25 233.27,304.52 233.70,303.00 C234.13,301.48 234.70,299.07 235.00,298.00 C235.30,296.93 235.95,294.68 236.30,293.80 C236.65,292.93 237.59,290.97 238.00,290.50 C238.41,290.03 239.43,289.62 239.80,289.80 C240.17,289.98 240.84,291.53 241.20,292.00 C241.56,292.47 242.50,293.22 242.90,293.80 C243.30,294.38 244.20,296.18 244.60,297.00 C245.00,297.82 245.93,299.87 246.30,300.80 C246.67,301.73 247.46,303.93 247.80,305.00 C248.14,306.07 248.83,308.89 249.20,310.00 C249.57,311.11 250.59,313.57 251.00,314.50 C251.41,315.43 252.29,317.18 252.70,318.00 C253.11,318.82 254.09,320.82 254.50,321.50 C254.91,322.18 255.73,323.36 256.20,323.80 C256.67,324.24 257.96,325.04 258.50,325.30 C259.04,325.56 260.09,325.86 260.80,326.00 C261.51,326.14 263.80,326.52 264.60,326.50 C265.41,326.48 266.72,326.15 267.70,325.80 C268.68,325.45 271.74,323.42 273.00,323.50 C274.26,323.58 277.15,325.79 278.50,326.50 C279.85,327.21 283.17,328.88 284.60,329.60 C286.04,330.32 289.35,332.25 290.80,332.70 C292.25,333.15 295.58,333.50 297.00,333.50 C298.42,333.50 301.58,333.06 303.00,332.70 C304.42,332.34 307.85,331.12 309.20,330.40 C310.55,329.68 313.61,327.48 314.60,326.50 C315.59,325.52 317.16,323.97 317.70,322.00 C318.24,320.03 318.93,311.23 319.20,309.60 C319.47,307.97 319.77,307.72 320.00,308.00 C320.23,308.28 320.87,310.46 321.20,312.00 C321.53,313.54 322.31,319.95 322.80,321.20 C323.29,322.45 324.83,322.61 325.40,322.70 C325.97,322.79 327.16,322.36 327.70,322.00 C328.24,321.64 329.56,319.43 330.00,319.60 C330.44,319.78 331.15,321.88 331.50,323.50 C331.85,325.12 332.64,332.04 333.00,333.50 C333.36,334.96 332.73,335.71 334.60,336.00 C336.47,336.29 347.32,336.00 349.00,336.00" fill="none" stroke="#3a6b8e" stroke-width="0.9" stroke-linejoin="round"/></g>
<rect x="208.8" y="198.8" width="7.4" height="10.4" fill="#9b9daa" stroke="#545766" stroke-width="0.9"/>
<text x="219.2" y="206.7" font-size="8.1" fill="#66687a" textLength="34.4" lengthAdjust="spacingAndGlyphs" stroke="#66687a" stroke-width="0.06">Untreated</text>
<rect x="274.6" y="198.8" width="7.8" height="10.4" fill="#a6d1ee" stroke="#4d9fd6" stroke-width="0.9"/>
<text x="286.6" y="206.7" font-size="8.1" fill="#4ea3d6" textLength="17.2" lengthAdjust="spacingAndGlyphs" stroke="#4ea3d6" stroke-width="0.06">B7Fc</text>
<line x1="198.8" y1="310.8" x2="258.5" y2="310.8" stroke="#333" stroke-width="1.1"/>
<line x1="258.5" y1="307.3" x2="258.5" y2="321.5" stroke="#333" stroke-width="1.1"/>
<line x1="258.5" y1="318.5" x2="349.2" y2="318.5" stroke="#333" stroke-width="1.1"/>
<text x="224.1" y="251.8" font-size="7.7" fill="#231f20" textLength="27.6" lengthAdjust="spacingAndGlyphs" stroke="#231f20" stroke-width="0.06">7-AAD–</text>
<text x="277.7" y="295.6" font-size="7.7" fill="#231f20" textLength="28.6" lengthAdjust="spacingAndGlyphs" stroke="#231f20" stroke-width="0.06">7-AAD+</text>
<rect x="360.8" y="186.0" width="150.2" height="150.0" fill="none" stroke="#1f1f1f" stroke-width="1.3"/>
<line x1="358.0" y1="336.00" x2="360.8" y2="336.00" stroke="#1f1f1f" stroke-width="0.9"/>
<line x1="359.0" y1="328.50" x2="360.8" y2="328.50" stroke="#1f1f1f" stroke-width="0.9"/>
<line x1="359.0" y1="321.00" x2="360.8" y2="321.00" stroke="#1f1f1f" stroke-width="0.9"/>
<line x1="359.0" y1="313.50" x2="360.8" y2="313.50" stroke="#1f1f1f" stroke-width="0.9"/>
<line x1="358.0" y1="306.00" x2="360.8" y2="306.00" stroke="#1f1f1f" stroke-width="0.9"/>
<line x1="359.0" y1="298.50" x2="360.8" y2="298.50" stroke="#1f1f1f" stroke-width="0.9"/>
<line x1="359.0" y1="291.00" x2="360.8" y2="291.00" stroke="#1f1f1f" stroke-width="0.9"/>
<line x1="359.0" y1="283.50" x2="360.8" y2="283.50" stroke="#1f1f1f" stroke-width="0.9"/>
<line x1="358.0" y1="276.00" x2="360.8" y2="276.00" stroke="#1f1f1f" stroke-width="0.9"/>
<line x1="359.0" y1="268.50" x2="360.8" y2="268.50" stroke="#1f1f1f" stroke-width="0.9"/>
<line x1="359.0" y1="261.00" x2="360.8" y2="261.00" stroke="#1f1f1f" stroke-width="0.9"/>
<line x1="359.0" y1="253.50" x2="360.8" y2="253.50" stroke="#1f1f1f" stroke-width="0.9"/>
<line x1="358.0" y1="246.00" x2="360.8" y2="246.00" stroke="#1f1f1f" stroke-width="0.9"/>
<line x1="359.0" y1="238.50" x2="360.8" y2="238.50" stroke="#1f1f1f" stroke-width="0.9"/>
<line x1="359.0" y1="231.00" x2="360.8" y2="231.00" stroke="#1f1f1f" stroke-width="0.9"/>
<line x1="359.0" y1="223.50" x2="360.8" y2="223.50" stroke="#1f1f1f" stroke-width="0.9"/>
<line x1="358.0" y1="216.00" x2="360.8" y2="216.00" stroke="#1f1f1f" stroke-width="0.9"/>
<line x1="359.0" y1="208.50" x2="360.8" y2="208.50" stroke="#1f1f1f" stroke-width="0.9"/>
<line x1="359.0" y1="201.00" x2="360.8" y2="201.00" stroke="#1f1f1f" stroke-width="0.9"/>
<line x1="359.0" y1="193.50" x2="360.8" y2="193.50" stroke="#1f1f1f" stroke-width="0.9"/>
<line x1="358.0" y1="186.00" x2="360.8" y2="186.00" stroke="#1f1f1f" stroke-width="0.9"/>
<line x1="379.68" y1="336.0" x2="379.68" y2="337.4" stroke="#1f1f1f" stroke-width="0.8"/>
<line x1="383.61" y1="336.0" x2="383.61" y2="337.4" stroke="#1f1f1f" stroke-width="0.8"/>
<line x1="386.82" y1="336.0" x2="386.82" y2="337.4" stroke="#1f1f1f" stroke-width="0.8"/>
<line x1="389.53" y1="336.0" x2="389.53" y2="337.4" stroke="#1f1f1f" stroke-width="0.8"/>
<line x1="391.88" y1="336.0" x2="391.88" y2="337.4" stroke="#1f1f1f" stroke-width="0.8"/>
<line x1="393.95" y1="336.0" x2="393.95" y2="337.4" stroke="#1f1f1f" stroke-width="0.8"/>
<line x1="395.80" y1="336.0" x2="395.80" y2="338.4" stroke="#1f1f1f" stroke-width="0.8"/>
<line x1="407.99" y1="336.0" x2="407.99" y2="337.4" stroke="#1f1f1f" stroke-width="0.8"/>
<line x1="415.12" y1="336.0" x2="415.12" y2="337.4" stroke="#1f1f1f" stroke-width="0.8"/>
<line x1="420.18" y1="336.0" x2="420.18" y2="337.4" stroke="#1f1f1f" stroke-width="0.8"/>
<line x1="424.11" y1="336.0" x2="424.11" y2="337.4" stroke="#1f1f1f" stroke-width="0.8"/>
<line x1="427.32" y1="336.0" x2="427.32" y2="337.4" stroke="#1f1f1f" stroke-width="0.8"/>
<line x1="430.03" y1="336.0" x2="430.03" y2="337.4" stroke="#1f1f1f" stroke-width="0.8"/>
<line x1="432.38" y1="336.0" x2="432.38" y2="337.4" stroke="#1f1f1f" stroke-width="0.8"/>
<line x1="434.45" y1="336.0" x2="434.45" y2="337.4" stroke="#1f1f1f" stroke-width="0.8"/>
<line x1="436.30" y1="336.0" x2="436.30" y2="338.4" stroke="#1f1f1f" stroke-width="0.8"/>
<line x1="448.49" y1="336.0" x2="448.49" y2="337.4" stroke="#1f1f1f" stroke-width="0.8"/>
<line x1="455.62" y1="336.0" x2="455.62" y2="337.4" stroke="#1f1f1f" stroke-width="0.8"/>
<line x1="460.68" y1="336.0" x2="460.68" y2="337.4" stroke="#1f1f1f" stroke-width="0.8"/>
<line x1="464.61" y1="336.0" x2="464.61" y2="337.4" stroke="#1f1f1f" stroke-width="0.8"/>
<line x1="467.82" y1="336.0" x2="467.82" y2="337.4" stroke="#1f1f1f" stroke-width="0.8"/>
<line x1="470.53" y1="336.0" x2="470.53" y2="337.4" stroke="#1f1f1f" stroke-width="0.8"/>
<line x1="472.88" y1="336.0" x2="472.88" y2="337.4" stroke="#1f1f1f" stroke-width="0.8"/>
<line x1="474.95" y1="336.0" x2="474.95" y2="337.4" stroke="#1f1f1f" stroke-width="0.8"/>
<line x1="476.80" y1="336.0" x2="476.80" y2="338.4" stroke="#1f1f1f" stroke-width="0.8"/>
<line x1="488.99" y1="336.0" x2="488.99" y2="337.4" stroke="#1f1f1f" stroke-width="0.8"/>
<line x1="496.12" y1="336.0" x2="496.12" y2="337.4" stroke="#1f1f1f" stroke-width="0.8"/>
<line x1="501.18" y1="336.0" x2="501.18" y2="337.4" stroke="#1f1f1f" stroke-width="0.8"/>
<line x1="505.11" y1="336.0" x2="505.11" y2="337.4" stroke="#1f1f1f" stroke-width="0.8"/>
<line x1="508.32" y1="336.0" x2="508.32" y2="337.4" stroke="#1f1f1f" stroke-width="0.8"/>
<line x1="378.80" y1="336.0" x2="378.80" y2="338.2" stroke="#1f1f1f" stroke-width="0.8"/>
<line x1="381.00" y1="336.0" x2="381.00" y2="338.2" stroke="#1f1f1f" stroke-width="0.8"/>
<line x1="383.20" y1="336.0" x2="383.20" y2="338.2" stroke="#1f1f1f" stroke-width="0.8"/>
<line x1="385.40" y1="336.0" x2="385.40" y2="338.2" stroke="#1f1f1f" stroke-width="0.8"/>
<line x1="387.60" y1="336.0" x2="387.60" y2="338.2" stroke="#1f1f1f" stroke-width="0.8"/>
<line x1="389.80" y1="336.0" x2="389.80" y2="338.2" stroke="#1f1f1f" stroke-width="0.8"/>
<g><path d="M363.80,336.0 L363.80,336.00 C364.52,336.00 368.41,336.06 370.00,336.00 C371.59,335.94 375.10,336.11 377.40,335.50 C379.70,334.89 387.18,331.62 389.70,330.80 C392.22,329.98 396.87,328.50 399.00,328.50 C401.13,328.50 406.04,330.36 408.00,330.80 C409.96,331.24 414.34,332.39 415.80,332.30 C417.26,332.21 419.24,330.44 420.50,330.00 C421.76,329.56 425.17,328.85 426.60,328.50 C428.04,328.15 431.35,327.09 432.80,327.00 C434.25,326.91 437.87,327.61 439.00,327.70 C440.13,327.79 440.87,327.32 442.50,327.80 C444.13,328.28 450.26,331.50 453.00,331.80 C455.74,332.10 463.55,330.87 466.00,330.40 C468.45,329.93 472.77,327.96 474.00,327.80 C475.23,327.64 475.96,333.43 476.50,329.00 C477.04,324.57 478.19,300.49 478.60,289.80 C479.01,279.11 479.69,248.78 480.00,237.40 C480.31,226.03 481.00,192.30 481.30,192.30 C481.60,192.30 482.30,226.94 482.60,237.40 C482.90,247.87 483.54,276.19 483.90,282.00 C484.26,287.81 485.19,287.20 485.70,287.20 C486.21,287.20 487.68,283.38 488.30,282.00 C488.92,280.62 490.48,273.88 491.00,275.40 C491.52,276.92 492.44,289.04 492.80,295.00 C493.16,300.96 493.76,321.75 494.10,326.50 C494.44,331.25 495.25,334.59 495.70,335.70 C496.15,336.81 496.33,335.96 498.00,336.00 C499.67,336.04 508.60,336.00 510.00,336.00 L510.00,336.0 Z" fill="#a6d1ee" fill-opacity="0.85" stroke="none"/>
<path d="M363.80,336.00 C364.52,336.00 368.41,336.06 370.00,336.00 C371.59,335.94 375.10,336.11 377.40,335.50 C379.70,334.89 387.18,331.62 389.70,330.80 C392.22,329.98 396.87,328.50 399.00,328.50 C401.13,328.50 406.04,330.36 408.00,330.80 C409.96,331.24 414.34,332.39 415.80,332.30 C417.26,332.21 419.24,330.44 420.50,330.00 C421.76,329.56 425.17,328.85 426.60,328.50 C428.04,328.15 431.35,327.09 432.80,327.00 C434.25,326.91 437.87,327.61 439.00,327.70 C440.13,327.79 440.87,327.32 442.50,327.80 C444.13,328.28 450.26,331.50 453.00,331.80 C455.74,332.10 463.55,330.87 466.00,330.40 C468.45,329.93 472.77,327.96 474.00,327.80 C475.23,327.64 475.96,333.43 476.50,329.00 C477.04,324.57 478.19,300.49 478.60,289.80 C479.01,279.11 479.69,248.78 480.00,237.40 C480.31,226.03 481.00,192.30 481.30,192.30 C481.60,192.30 482.30,226.94 482.60,237.40 C482.90,247.87 483.54,276.19 483.90,282.00 C484.26,287.81 485.19,287.20 485.70,287.20 C486.21,287.20 487.68,283.38 488.30,282.00 C488.92,280.62 490.48,273.88 491.00,275.40 C491.52,276.92 492.44,289.04 492.80,295.00 C493.16,300.96 493.76,321.75 494.10,326.50 C494.44,331.25 495.25,334.59 495.70,335.70 C496.15,336.81 496.33,335.96 498.00,336.00 C499.67,336.04 508.60,336.00 510.00,336.00" fill="none" stroke="#4d9fd6" stroke-width="0.9" stroke-linejoin="round"/></g>
<g><path d="M361.50,336.0 L361.50,336.00 C362.49,336.00 368.33,336.00 370.00,336.00 C371.67,336.00 374.57,336.79 375.80,336.00 C377.03,335.21 379.66,330.60 380.50,329.20 C381.34,327.80 382.36,325.25 383.00,324.00 C383.64,322.75 385.29,320.04 386.00,318.50 C386.71,316.96 388.44,312.90 389.10,310.80 C389.77,308.70 391.19,302.46 391.70,300.50 C392.21,298.54 393.14,295.19 393.50,294.00 C393.86,292.81 394.47,291.41 394.80,290.30 C395.13,289.19 396.01,285.40 396.30,284.50 C396.59,283.60 396.99,282.78 397.30,282.60 C397.62,282.43 398.64,282.66 399.00,283.00 C399.36,283.34 400.05,284.65 400.40,285.50 C400.75,286.35 401.52,288.55 402.00,290.30 C402.48,292.05 403.85,298.11 404.50,300.50 C405.15,302.89 406.94,308.53 407.60,310.80 C408.27,313.07 409.66,318.29 410.20,320.00 C410.74,321.71 411.66,324.39 412.20,325.50 C412.74,326.61 413.83,328.98 414.80,329.50 C415.77,330.02 419.12,330.12 420.50,330.00 C421.88,329.88 425.17,328.85 426.60,328.50 C428.04,328.15 431.35,327.09 432.80,327.00 C434.25,326.91 437.87,327.61 439.00,327.70 C440.13,327.79 440.87,327.32 442.50,327.80 C444.13,328.28 450.26,331.50 453.00,331.80 C455.74,332.10 463.55,330.87 466.00,330.40 C468.45,329.93 472.77,327.96 474.00,327.80 C475.23,327.64 475.96,329.00 476.50,329.00 C477.04,329.00 478.04,330.30 478.60,327.80 C479.16,325.30 480.62,308.06 481.30,307.60 C481.98,307.15 483.62,321.75 484.40,323.90 C485.18,326.05 487.23,325.85 488.00,326.00 C488.77,326.15 490.29,324.38 491.00,325.20 C491.71,326.02 493.52,331.74 494.10,333.00 C494.68,334.26 494.14,335.65 496.00,336.00 C497.86,336.35 508.37,336.00 510.00,336.00 L510.00,336.0 Z" fill="#9b9daa" fill-opacity="0.95" stroke="none"/>
<path d="M361.50,336.00 C362.49,336.00 368.33,336.00 370.00,336.00 C371.67,336.00 374.57,336.79 375.80,336.00 C377.03,335.21 379.66,330.60 380.50,329.20 C381.34,327.80 382.36,325.25 383.00,324.00 C383.64,322.75 385.29,320.04 386.00,318.50 C386.71,316.96 388.44,312.90 389.10,310.80 C389.77,308.70 391.19,302.46 391.70,300.50 C392.21,298.54 393.14,295.19 393.50,294.00 C393.86,292.81 394.47,291.41 394.80,290.30 C395.13,289.19 396.01,285.40 396.30,284.50 C396.59,283.60 396.99,282.78 397.30,282.60 C397.62,282.43 398.64,282.66 399.00,283.00 C399.36,283.34 400.05,284.65 400.40,285.50 C400.75,286.35 401.52,288.55 402.00,290.30 C402.48,292.05 403.85,298.11 404.50,300.50 C405.15,302.89 406.94,308.53 407.60,310.80 C408.27,313.07 409.66,318.29 410.20,320.00 C410.74,321.71 411.66,324.39 412.20,325.50 C412.74,326.61 413.83,328.98 414.80,329.50 C415.77,330.02 419.12,330.12 420.50,330.00 C421.88,329.88 425.17,328.85 426.60,328.50 C428.04,328.15 431.35,327.09 432.80,327.00 C434.25,326.91 437.87,327.61 439.00,327.70 C440.13,327.79 440.87,327.32 442.50,327.80 C444.13,328.28 450.26,331.50 453.00,331.80 C455.74,332.10 463.55,330.87 466.00,330.40 C468.45,329.93 472.77,327.96 474.00,327.80 C475.23,327.64 475.96,329.00 476.50,329.00 C477.04,329.00 478.04,330.30 478.60,327.80 C479.16,325.30 480.62,308.06 481.30,307.60 C481.98,307.15 483.62,321.75 484.40,323.90 C485.18,326.05 487.23,325.85 488.00,326.00 C488.77,326.15 490.29,324.38 491.00,325.20 C491.71,326.02 493.52,331.74 494.10,333.00 C494.68,334.26 494.14,335.65 496.00,336.00 C497.86,336.35 508.37,336.00 510.00,336.00" fill="none" stroke="#545766" stroke-width="0.9" stroke-linejoin="round"/></g>
<g><path d="M363.80,336.0 L363.80,336.00 C364.52,336.00 368.41,336.06 370.00,336.00 C371.59,335.94 375.10,336.11 377.40,335.50 C379.70,334.89 387.18,331.62 389.70,330.80 C392.22,329.98 396.87,328.50 399.00,328.50 C401.13,328.50 406.04,330.36 408.00,330.80 C409.96,331.24 414.34,332.39 415.80,332.30 C417.26,332.21 419.24,330.44 420.50,330.00 C421.76,329.56 425.17,328.85 426.60,328.50 C428.04,328.15 431.35,327.09 432.80,327.00 C434.25,326.91 437.87,327.61 439.00,327.70 C440.13,327.79 440.87,327.32 442.50,327.80 C444.13,328.28 450.26,331.50 453.00,331.80 C455.74,332.10 463.55,330.87 466.00,330.40 C468.45,329.93 472.53,328.10 474.00,327.80 C475.47,327.50 477.75,330.16 478.60,327.80 C479.45,325.44 480.62,308.06 481.30,307.60 C481.98,307.15 483.62,321.75 484.40,323.90 C485.18,326.05 487.23,325.85 488.00,326.00 C488.77,326.15 490.29,324.38 491.00,325.20 C491.71,326.02 493.52,331.74 494.10,333.00 C494.68,334.26 494.14,335.65 496.00,336.00 C497.86,336.35 508.37,336.00 510.00,336.00 L510.00,336.0 Z" fill="#6b9dc4" fill-opacity="0.95" stroke="none"/>
<path d="M363.80,336.00 C364.52,336.00 368.41,336.06 370.00,336.00 C371.59,335.94 375.10,336.11 377.40,335.50 C379.70,334.89 387.18,331.62 389.70,330.80 C392.22,329.98 396.87,328.50 399.00,328.50 C401.13,328.50 406.04,330.36 408.00,330.80 C409.96,331.24 414.34,332.39 415.80,332.30 C417.26,332.21 419.24,330.44 420.50,330.00 C421.76,329.56 425.17,328.85 426.60,328.50 C428.04,328.15 431.35,327.09 432.80,327.00 C434.25,326.91 437.87,327.61 439.00,327.70 C440.13,327.79 440.87,327.32 442.50,327.80 C444.13,328.28 450.26,331.50 453.00,331.80 C455.74,332.10 463.55,330.87 466.00,330.40 C468.45,329.93 472.53,328.10 474.00,327.80 C475.47,327.50 477.75,330.16 478.60,327.80 C479.45,325.44 480.62,308.06 481.30,307.60 C481.98,307.15 483.62,321.75 484.40,323.90 C485.18,326.05 487.23,325.85 488.00,326.00 C488.77,326.15 490.29,324.38 491.00,325.20 C491.71,326.02 493.52,331.74 494.10,333.00 C494.68,334.26 494.14,335.65 496.00,336.00 C497.86,336.35 508.37,336.00 510.00,336.00" fill="none" stroke="#3d6a88" stroke-width="0.9" stroke-linejoin="round"/></g>
<rect x="369.7" y="198.8" width="7.4" height="10.4" fill="#9b9daa" stroke="#545766" stroke-width="0.9"/>
<text x="380.3" y="206.7" font-size="8.1" fill="#66687a" textLength="34.4" lengthAdjust="spacingAndGlyphs" stroke="#66687a" stroke-width="0.06">Untreated</text>
<rect x="435.5" y="198.8" width="7.8" height="10.4" fill="#a6d1ee" stroke="#4d9fd6" stroke-width="0.9"/>
<text x="447.8" y="206.7" font-size="8.1" fill="#4ea3d6" textLength="17.2" lengthAdjust="spacingAndGlyphs" stroke="#4ea3d6" stroke-width="0.06">B7Fc</text>
<line x1="360.8" y1="300.3" x2="413.5" y2="300.3" stroke="#333" stroke-width="1.1"/>
<line x1="413.5" y1="296.8" x2="413.5" y2="310.7" stroke="#333" stroke-width="1.1"/>
<line x1="413.5" y1="307.7" x2="511.0" y2="307.7" stroke="#333" stroke-width="1.1"/>
<text x="382.9" y="251.6" font-size="7.7" fill="#231f20" textLength="27.6" lengthAdjust="spacingAndGlyphs" stroke="#231f20" stroke-width="0.06">7-AAD–</text>
<text x="436.5" y="295.6" font-size="7.7" fill="#231f20" textLength="28.6" lengthAdjust="spacingAndGlyphs" stroke="#231f20" stroke-width="0.06">7-AAD+</text>
<text x="31.4" y="176.4" font-size="8.3" fill="#3a3a3a" text-anchor="end" font-weight="normal"  stroke="#3a3a3a" stroke-width="0.06">0</text>
<text x="31.4" y="147.4" font-size="8.3" fill="#3a3a3a" text-anchor="end" font-weight="normal"  stroke="#3a3a3a" stroke-width="0.06">100</text>
<text x="31.4" y="118.4" font-size="8.3" fill="#3a3a3a" text-anchor="end" font-weight="normal"  stroke="#3a3a3a" stroke-width="0.06">200</text>
<text x="31.4" y="89.4" font-size="8.3" fill="#3a3a3a" text-anchor="end" font-weight="normal"  stroke="#3a3a3a" stroke-width="0.06">300</text>
<text x="31.4" y="60.40000000000002" font-size="8.3" fill="#3a3a3a" text-anchor="end" font-weight="normal"  stroke="#3a3a3a" stroke-width="0.06">400</text>
<text x="31.4" y="31.400000000000006" font-size="8.3" fill="#3a3a3a" text-anchor="end" font-weight="normal"  stroke="#3a3a3a" stroke-width="0.06">500</text>
<text x="31.4" y="339.0" font-size="8.3" fill="#3a3a3a" text-anchor="end" font-weight="normal"  stroke="#3a3a3a" stroke-width="0.06">0</text>
<text x="31.4" y="309.0" font-size="8.3" fill="#3a3a3a" text-anchor="end" font-weight="normal"  stroke="#3a3a3a" stroke-width="0.06">100</text>
<text x="31.4" y="279.0" font-size="8.3" fill="#3a3a3a" text-anchor="end" font-weight="normal"  stroke="#3a3a3a" stroke-width="0.06">200</text>
<text x="31.4" y="249.0" font-size="8.3" fill="#3a3a3a" text-anchor="end" font-weight="normal"  stroke="#3a3a3a" stroke-width="0.06">300</text>
<text x="31.4" y="219.0" font-size="8.3" fill="#3a3a3a" text-anchor="end" font-weight="normal"  stroke="#3a3a3a" stroke-width="0.06">400</text>
<text x="31.4" y="189.0" font-size="8.3" fill="#3a3a3a" text-anchor="end" font-weight="normal"  stroke="#3a3a3a" stroke-width="0.06">500</text>
<line x1="9" y1="296" x2="9" y2="28" stroke="#222" stroke-width="1.3"/>
<path d="M9,24.3 L12.3,32.3 L9,30.3 L5.7,32.3 Z" fill="#222"/>
<text transform="translate(11.8,335.8) rotate(-90)" font-size="9.3" fill="#231f20" textLength="25" lengthAdjust="spacingAndGlyphs" stroke="#231f20" stroke-width="0.06">Counts</text>
<text x="61.0" y="353.2" font-size="8" fill="#3a3a3a" textLength="3.8" lengthAdjust="spacingAndGlyphs" stroke="#3a3a3a" stroke-width="0.06">0</text>
<text x="67.1" y="353.2" font-size="8" fill="#3a3a3a" textLength="6.8" lengthAdjust="spacingAndGlyphs" stroke="#3a3a3a" stroke-width="0.06">10</text>
<text x="74.4" y="349.6" font-size="5" fill="#3a3a3a" stroke="#3a3a3a" stroke-width="0.06">2</text>
<text x="106.1" y="353.2" font-size="8" fill="#3a3a3a" textLength="6.8" lengthAdjust="spacingAndGlyphs" stroke="#3a3a3a" stroke-width="0.06">10</text>
<text x="113.4" y="349.6" font-size="5" fill="#3a3a3a" stroke="#3a3a3a" stroke-width="0.06">3</text>
<text x="147.1" y="353.2" font-size="8" fill="#3a3a3a" textLength="6.8" lengthAdjust="spacingAndGlyphs" stroke="#3a3a3a" stroke-width="0.06">10</text>
<text x="154.4" y="349.6" font-size="5" fill="#3a3a3a" stroke="#3a3a3a" stroke-width="0.06">4</text>
<text x="221.0" y="353.2" font-size="8" fill="#3a3a3a" textLength="3.8" lengthAdjust="spacingAndGlyphs" stroke="#3a3a3a" stroke-width="0.06">0</text>
<text x="227.1" y="353.2" font-size="8" fill="#3a3a3a" textLength="6.8" lengthAdjust="spacingAndGlyphs" stroke="#3a3a3a" stroke-width="0.06">10</text>
<text x="234.4" y="349.6" font-size="5" fill="#3a3a3a" stroke="#3a3a3a" stroke-width="0.06">2</text>
<text x="266.1" y="353.2" font-size="8" fill="#3a3a3a" textLength="6.8" lengthAdjust="spacingAndGlyphs" stroke="#3a3a3a" stroke-width="0.06">10</text>
<text x="273.4" y="349.6" font-size="5" fill="#3a3a3a" stroke="#3a3a3a" stroke-width="0.06">3</text>
<text x="307.1" y="353.2" font-size="8" fill="#3a3a3a" textLength="6.8" lengthAdjust="spacingAndGlyphs" stroke="#3a3a3a" stroke-width="0.06">10</text>
<text x="314.4" y="349.6" font-size="5" fill="#3a3a3a" stroke="#3a3a3a" stroke-width="0.06">4</text>
<text x="382.8" y="353.2" font-size="8" fill="#3a3a3a" textLength="3.8" lengthAdjust="spacingAndGlyphs" stroke="#3a3a3a" stroke-width="0.06">0</text>
<text x="388.9" y="353.2" font-size="8" fill="#3a3a3a" textLength="6.8" lengthAdjust="spacingAndGlyphs" stroke="#3a3a3a" stroke-width="0.06">10</text>
<text x="396.2" y="349.6" font-size="5" fill="#3a3a3a" stroke="#3a3a3a" stroke-width="0.06">2</text>
<text x="427.9" y="353.2" font-size="8" fill="#3a3a3a" textLength="6.8" lengthAdjust="spacingAndGlyphs" stroke="#3a3a3a" stroke-width="0.06">10</text>
<text x="435.2" y="349.6" font-size="5" fill="#3a3a3a" stroke="#3a3a3a" stroke-width="0.06">3</text>
<text x="468.9" y="353.2" font-size="8" fill="#3a3a3a" textLength="6.8" lengthAdjust="spacingAndGlyphs" stroke="#3a3a3a" stroke-width="0.06">10</text>
<text x="476.2" y="349.6" font-size="5" fill="#3a3a3a" stroke="#3a3a3a" stroke-width="0.06">4</text>
<text x="38" y="371.5" font-size="9" fill="#231f20" textLength="21.8" lengthAdjust="spacingAndGlyphs" stroke="#231f20" stroke-width="0.06">7-AAD</text>
<line x1="63" y1="368.5" x2="504" y2="368.5" stroke="#222" stroke-width="1.3"/>
<path d="M511,368.5 L503,365.2 L505,368.5 L503,371.8 Z" fill="#222"/>
<text x="0.9" y="392.3" font-size="11" fill="#111" text-anchor="start" font-weight="bold"  stroke="#111" stroke-width="0.06">B</text>
<text x="7.3" y="408.6" font-size="7.5" fill="#231f20" text-anchor="start" font-weight="normal"  stroke="#231f20" stroke-width="0.06">PA2.1 cells</text>
<line x1="51.4" y1="396.2" x2="51.4" y2="416.6" stroke="#222" stroke-width="1.3"/>
<line x1="57.8" y1="396.3" x2="72.39999999999999" y2="396.3" stroke="#b01c3c" stroke-width="1.1"/>
<circle cx="65.1" cy="396.3" r="3.5" fill="#fff" stroke="#b01c3c" stroke-width="1.1"/>
<text x="76.0" y="399.2" font-size="7.9" fill="#b01c3c" text-anchor="start" font-weight="normal"  stroke="#b01c3c" stroke-width="0.06">A2Fc</text>
<line x1="57.8" y1="413.3" x2="72.39999999999999" y2="413.3" stroke="#eea53e" stroke-width="1.1"/>
<circle cx="65.1" cy="413.3" r="3.5" fill="#fff" stroke="#eea53e" stroke-width="1.1"/>
<text x="76.0" y="416.2" font-size="7.9" fill="#eea53e" text-anchor="start" font-weight="normal"  stroke="#eea53e" stroke-width="0.06">A2Fc-LALAPG</text>
<line x1="35.6" y1="425.5" x2="35.6" y2="554.8" stroke="#222" stroke-width="1.3"/>
<line x1="35.0" y1="554.2" x2="164.45" y2="554.2" stroke="#222" stroke-width="1.3"/>
<line x1="33.2" y1="554.20" x2="35.6" y2="554.20" stroke="#222" stroke-width="1"/>
<text x="28.8" y="557.2" font-size="8.4" fill="#231f20" text-anchor="end" font-weight="normal"  stroke="#231f20" stroke-width="0.06">0</text>
<line x1="33.2" y1="532.80" x2="35.6" y2="532.80" stroke="#222" stroke-width="1"/>
<text x="28.8" y="535.8000000000001" font-size="8.4" fill="#231f20" text-anchor="end" font-weight="normal"  stroke="#231f20" stroke-width="0.06">20</text>
<line x1="33.2" y1="511.40" x2="35.6" y2="511.40" stroke="#222" stroke-width="1"/>
<text x="28.8" y="514.4000000000001" font-size="8.4" fill="#231f20" text-anchor="end" font-weight="normal"  stroke="#231f20" stroke-width="0.06">40</text>
<line x1="33.2" y1="490.00" x2="35.6" y2="490.00" stroke="#222" stroke-width="1"/>
<text x="28.8" y="493.00000000000006" font-size="8.4" fill="#231f20" text-anchor="end" font-weight="normal"  stroke="#231f20" stroke-width="0.06">60</text>
<line x1="33.2" y1="468.60" x2="35.6" y2="468.60" stroke="#222" stroke-width="1"/>
<text x="28.8" y="471.6" font-size="8.4" fill="#231f20" text-anchor="end" font-weight="normal"  stroke="#231f20" stroke-width="0.06">80</text>
<line x1="33.2" y1="447.20" x2="35.6" y2="447.20" stroke="#222" stroke-width="1"/>
<text x="28.8" y="450.20000000000005" font-size="8.4" fill="#231f20" text-anchor="end" font-weight="normal"  stroke="#231f20" stroke-width="0.06">100</text>
<line x1="33.2" y1="425.80" x2="35.6" y2="425.80" stroke="#222" stroke-width="1"/>
<text x="28.8" y="428.80000000000007" font-size="8.4" fill="#231f20" text-anchor="end" font-weight="normal"  stroke="#231f20" stroke-width="0.06">120</text>
<line x1="35.60" y1="554.2" x2="35.60" y2="556.8" stroke="#222" stroke-width="1"/>
<text x="34.800000000000004" y="567.8" font-size="8.4" fill="#231f20" text-anchor="middle" font-weight="normal"  stroke="#231f20" stroke-width="0.06">−6</text>
<line x1="61.05" y1="554.2" x2="61.05" y2="556.8" stroke="#222" stroke-width="1"/>
<text x="60.25" y="567.8" font-size="8.4" fill="#231f20" text-anchor="middle" font-weight="normal"  stroke="#231f20" stroke-width="0.06">−5</text>
<line x1="86.50" y1="554.2" x2="86.50" y2="556.8" stroke="#222" stroke-width="1"/>
<text x="85.7" y="567.8" font-size="8.4" fill="#231f20" text-anchor="middle" font-weight="normal"  stroke="#231f20" stroke-width="0.06">−4</text>
<line x1="111.95" y1="554.2" x2="111.95" y2="556.8" stroke="#222" stroke-width="1"/>
<text x="111.14999999999999" y="567.8" font-size="8.4" fill="#231f20" text-anchor="middle" font-weight="normal"  stroke="#231f20" stroke-width="0.06">−3</text>
<line x1="137.40" y1="554.2" x2="137.40" y2="556.8" stroke="#222" stroke-width="1"/>
<text x="136.6" y="567.8" font-size="8.4" fill="#231f20" text-anchor="middle" font-weight="normal"  stroke="#231f20" stroke-width="0.06">−2</text>
<line x1="162.85" y1="554.2" x2="162.85" y2="556.8" stroke="#222" stroke-width="1"/>
<text x="162.04999999999998" y="567.8" font-size="8.4" fill="#231f20" text-anchor="middle" font-weight="normal"  stroke="#231f20" stroke-width="0.06">−1</text>
<text x="53.1" y="581.3" font-size="9.2" fill="#231f20" textLength="96" lengthAdjust="spacingAndGlyphs" stroke="#231f20" stroke-width="0.06">Concentration (log, mg/mL)</text>
<text transform="translate(9.0,521.5) rotate(-90)" font-size="8.8" fill="#231f20" textLength="67" lengthAdjust="spacingAndGlyphs" stroke="#231f20" stroke-width="0.06">Percent survival (%)</text>
<path d="M35.60,450.86 L36.87,451.20 L38.14,451.58 L39.42,452.00 L40.69,452.45 L41.96,452.94 L43.23,453.48 L44.51,454.06 L45.78,454.69 L47.05,455.37 L48.33,456.12 L49.60,456.92 L50.87,457.79 L52.14,458.72 L53.42,459.73 L54.69,460.81 L55.96,461.97 L57.23,463.22 L58.51,464.55 L59.78,465.96 L61.05,467.47 L62.32,469.06 L63.59,470.75 L64.87,472.53 L66.14,474.40 L67.41,476.36 L68.69,478.41 L69.96,480.53 L71.23,482.74 L72.50,485.01 L73.78,487.35 L75.05,489.75 L76.32,492.19 L77.59,494.66 L78.87,497.17 L80.14,499.69 L81.41,502.21 L82.68,504.73 L83.96,507.23 L85.23,509.70 L86.50,512.14 L87.77,514.52 L89.05,516.85 L90.32,519.11 L91.59,521.30 L92.86,523.41 L94.13,525.44 L95.41,527.38 L96.68,529.23 L97.95,530.99 L99.22,532.66 L100.50,534.24 L101.77,535.73 L103.04,537.13 L104.31,538.44 L105.59,539.67 L106.86,540.81 L108.13,541.88 L109.41,542.87 L110.68,543.79 L111.95,544.65 L113.22,545.44 L114.50,546.17 L115.77,546.84 L117.04,547.46 L118.31,548.03 L119.59,548.56 L120.86,549.04 L122.13,549.49 L123.40,549.90 L124.68,550.27 L125.95,550.61 L127.22,550.92 L128.49,551.21 L129.77,551.47 L131.04,551.71 L132.31,551.93 L133.58,552.13 L134.85,552.32 L136.13,552.48 L137.40,552.64" fill="none" stroke="#b01c3c" stroke-width="1.5"/>
<circle cx="37.80" cy="448.27" r="3.5" fill="#fff" fill-opacity="0.9" stroke="#eea53e" stroke-width="1.1"/>
<circle cx="45.47" cy="449.34" r="3.5" fill="#fff" fill-opacity="0.9" stroke="#eea53e" stroke-width="1.1"/>
<circle cx="53.13" cy="450.41" r="3.5" fill="#fff" fill-opacity="0.9" stroke="#eea53e" stroke-width="1.1"/>
<circle cx="60.79" cy="449.88" r="3.5" fill="#fff" fill-opacity="0.9" stroke="#eea53e" stroke-width="1.1"/>
<circle cx="68.45" cy="452.23" r="3.5" fill="#fff" fill-opacity="0.9" stroke="#eea53e" stroke-width="1.1"/>
<circle cx="76.11" cy="451.05" r="3.5" fill="#fff" fill-opacity="0.9" stroke="#eea53e" stroke-width="1.1"/>
<circle cx="83.77" cy="451.05" r="3.5" fill="#fff" fill-opacity="0.9" stroke="#eea53e" stroke-width="1.1"/>
<circle cx="91.43" cy="452.66" r="3.5" fill="#fff" fill-opacity="0.9" stroke="#eea53e" stroke-width="1.1"/>
<circle cx="99.09" cy="452.66" r="3.5" fill="#fff" fill-opacity="0.9" stroke="#eea53e" stroke-width="1.1"/>
<circle cx="106.76" cy="451.48" r="3.5" fill="#fff" fill-opacity="0.9" stroke="#eea53e" stroke-width="1.1"/>
<circle cx="114.42" cy="450.41" r="3.5" fill="#fff" fill-opacity="0.9" stroke="#eea53e" stroke-width="1.1"/>
<circle cx="122.08" cy="448.81" r="3.5" fill="#fff" fill-opacity="0.9" stroke="#eea53e" stroke-width="1.1"/>
<circle cx="129.74" cy="451.05" r="3.5" fill="#fff" fill-opacity="0.9" stroke="#eea53e" stroke-width="1.1"/>
<circle cx="137.40" cy="447.63" r="3.5" fill="#fff" fill-opacity="0.9" stroke="#eea53e" stroke-width="1.1"/>
<path d="M76.11,476.09 V518.89 M73.31,476.09 H78.91 M73.31,518.89 H78.91" stroke="#b01c3c" stroke-width="1" fill="none"/>
<path d="M83.77,494.28 V531.73 M80.97,494.28 H86.57 M80.97,531.73 H86.57" stroke="#b01c3c" stroke-width="1" fill="none"/>
<path d="M91.43,507.12 V537.08 M88.63,507.12 H94.23 M88.63,537.08 H94.23" stroke="#b01c3c" stroke-width="1" fill="none"/>
<path d="M99.09,514.61 V550.99 M96.29,514.61 H101.89 M96.29,550.99 H101.89" stroke="#b01c3c" stroke-width="1" fill="none"/>
<path d="M106.76,528.52 V543.50 M103.96,528.52 H109.56 M103.96,543.50 H109.56" stroke="#b01c3c" stroke-width="1" fill="none"/>
<path d="M122.08,532.80 V547.78 M119.28,532.80 H124.88 M119.28,547.78 H124.88" stroke="#b01c3c" stroke-width="1" fill="none"/>
<path d="M129.74,532.80 V548.85 M126.94,532.80 H132.54 M126.94,548.85 H132.54" stroke="#b01c3c" stroke-width="1" fill="none"/>
<path d="M137.40,538.15 V547.78 M134.60,538.15 H140.20 M134.60,547.78 H140.20" stroke="#b01c3c" stroke-width="1" fill="none"/>
<circle cx="37.80" cy="448.27" r="3.5" fill="#fff" fill-opacity="0.9" stroke="#b01c3c" stroke-width="1.1"/>
<circle cx="45.47" cy="449.88" r="3.5" fill="#fff" fill-opacity="0.9" stroke="#b01c3c" stroke-width="1.1"/>
<circle cx="53.13" cy="452.55" r="3.5" fill="#fff" fill-opacity="0.9" stroke="#b01c3c" stroke-width="1.1"/>
<circle cx="60.79" cy="458.97" r="3.5" fill="#fff" fill-opacity="0.9" stroke="#b01c3c" stroke-width="1.1"/>
<circle cx="68.45" cy="471.28" r="3.5" fill="#fff" fill-opacity="0.9" stroke="#b01c3c" stroke-width="1.1"/>
<circle cx="76.11" cy="497.49" r="3.5" fill="#fff" fill-opacity="0.9" stroke="#b01c3c" stroke-width="1.1"/>
<circle cx="83.77" cy="513.54" r="3.5" fill="#fff" fill-opacity="0.9" stroke="#b01c3c" stroke-width="1.1"/>
<circle cx="91.43" cy="522.10" r="3.5" fill="#fff" fill-opacity="0.9" stroke="#b01c3c" stroke-width="1.1"/>
<circle cx="99.09" cy="533.87" r="3.5" fill="#fff" fill-opacity="0.9" stroke="#b01c3c" stroke-width="1.1"/>
<circle cx="106.76" cy="537.08" r="3.5" fill="#fff" fill-opacity="0.9" stroke="#b01c3c" stroke-width="1.1"/>
<circle cx="114.42" cy="536.01" r="3.5" fill="#fff" fill-opacity="0.9" stroke="#b01c3c" stroke-width="1.1"/>
<circle cx="122.08" cy="541.36" r="3.5" fill="#fff" fill-opacity="0.9" stroke="#b01c3c" stroke-width="1.1"/>
<circle cx="129.74" cy="541.90" r="3.5" fill="#fff" fill-opacity="0.9" stroke="#b01c3c" stroke-width="1.1"/>
<circle cx="137.40" cy="544.04" r="3.5" fill="#fff" fill-opacity="0.9" stroke="#b01c3c" stroke-width="1.1"/>
<text x="175.0" y="392.3" font-size="11" fill="#111" text-anchor="start" font-weight="bold"  stroke="#111" stroke-width="0.06">C</text>
<text x="186.6" y="408.6" font-size="7.5" fill="#231f20" text-anchor="start" font-weight="normal"  stroke="#231f20" stroke-width="0.06">PA2.1 cells</text>
<line x1="231.0" y1="396.2" x2="231.0" y2="416.6" stroke="#222" stroke-width="1.3"/>
<line x1="237.4" y1="395.4" x2="252.0" y2="395.4" stroke="#b01c3c" stroke-width="1.1"/>
<circle cx="244.70000000000002" cy="395.4" r="3.5" fill="#fff" stroke="#b01c3c" stroke-width="1.1"/>
<text x="255.6" y="398.29999999999995" font-size="7.9" fill="#b01c3c" text-anchor="start" font-weight="normal"  stroke="#b01c3c" stroke-width="0.06">A2Fc</text>
<line x1="237.4" y1="412.7" x2="252.0" y2="412.7" stroke="#3fa0d4" stroke-width="1.1"/>
<circle cx="244.70000000000002" cy="412.7" r="3.5" fill="#fff" stroke="#3fa0d4" stroke-width="1.1"/>
<text x="255.6" y="415.59999999999997" font-size="7.9" fill="#3fa0d4" text-anchor="start" font-weight="normal"  stroke="#3fa0d4" stroke-width="0.06">B7Fc</text>
<line x1="211.9" y1="425.5" x2="211.9" y2="554.8" stroke="#222" stroke-width="1.3"/>
<line x1="211.3" y1="554.2" x2="340.75" y2="554.2" stroke="#222" stroke-width="1.3"/>
<line x1="209.5" y1="554.20" x2="211.9" y2="554.20" stroke="#222" stroke-width="1"/>
<text x="205.1" y="557.2" font-size="8.4" fill="#231f20" text-anchor="end" font-weight="normal"  stroke="#231f20" stroke-width="0.06">0</text>
<line x1="209.5" y1="532.80" x2="211.9" y2="532.80" stroke="#222" stroke-width="1"/>
<text x="205.1" y="535.8000000000001" font-size="8.4" fill="#231f20" text-anchor="end" font-weight="normal"  stroke="#231f20" stroke-width="0.06">20</text>
<line x1="209.5" y1="511.40" x2="211.9" y2="511.40" stroke="#222" stroke-width="1"/>
<text x="205.1" y="514.4000000000001" font-size="8.4" fill="#231f20" text-anchor="end" font-weight="normal"  stroke="#231f20" stroke-width="0.06">40</text>
<line x1="209.5" y1="490.00" x2="211.9" y2="490.00" stroke="#222" stroke-width="1"/>
<text x="205.1" y="493.00000000000006" font-size="8.4" fill="#231f20" text-anchor="end" font-weight="normal"  stroke="#231f20" stroke-width="0.06">60</text>
<line x1="209.5" y1="468.60" x2="211.9" y2="468.60" stroke="#222" stroke-width="1"/>
<text x="205.1" y="471.6" font-size="8.4" fill="#231f20" text-anchor="end" font-weight="normal"  stroke="#231f20" stroke-width="0.06">80</text>
<line x1="209.5" y1="447.20" x2="211.9" y2="447.20" stroke="#222" stroke-width="1"/>
<text x="205.1" y="450.20000000000005" font-size="8.4" fill="#231f20" text-anchor="end" font-weight="normal"  stroke="#231f20" stroke-width="0.06">100</text>
<line x1="209.5" y1="425.80" x2="211.9" y2="425.80" stroke="#222" stroke-width="1"/>
<text x="205.1" y="428.80000000000007" font-size="8.4" fill="#231f20" text-anchor="end" font-weight="normal"  stroke="#231f20" stroke-width="0.06">120</text>
<line x1="211.90" y1="554.2" x2="211.90" y2="556.8" stroke="#222" stroke-width="1"/>
<text x="211.1" y="567.8" font-size="8.4" fill="#231f20" text-anchor="middle" font-weight="normal"  stroke="#231f20" stroke-width="0.06">−6</text>
<line x1="237.35" y1="554.2" x2="237.35" y2="556.8" stroke="#222" stroke-width="1"/>
<text x="236.54999999999998" y="567.8" font-size="8.4" fill="#231f20" text-anchor="middle" font-weight="normal"  stroke="#231f20" stroke-width="0.06">−5</text>
<line x1="262.80" y1="554.2" x2="262.80" y2="556.8" stroke="#222" stroke-width="1"/>
<text x="262.0" y="567.8" font-size="8.4" fill="#231f20" text-anchor="middle" font-weight="normal"  stroke="#231f20" stroke-width="0.06">−4</text>
<line x1="288.25" y1="554.2" x2="288.25" y2="556.8" stroke="#222" stroke-width="1"/>
<text x="287.45" y="567.8" font-size="8.4" fill="#231f20" text-anchor="middle" font-weight="normal"  stroke="#231f20" stroke-width="0.06">−3</text>
<line x1="313.70" y1="554.2" x2="313.70" y2="556.8" stroke="#222" stroke-width="1"/>
<text x="312.9" y="567.8" font-size="8.4" fill="#231f20" text-anchor="middle" font-weight="normal"  stroke="#231f20" stroke-width="0.06">−2</text>
<line x1="339.15" y1="554.2" x2="339.15" y2="556.8" stroke="#222" stroke-width="1"/>
<text x="338.34999999999997" y="567.8" font-size="8.4" fill="#231f20" text-anchor="middle" font-weight="normal"  stroke="#231f20" stroke-width="0.06">−1</text>
<text x="229.4" y="581.3" font-size="9.2" fill="#231f20" textLength="96" lengthAdjust="spacingAndGlyphs" stroke="#231f20" stroke-width="0.06">Concentration (log, mg/mL)</text>
<text transform="translate(185.3,521.5) rotate(-90)" font-size="8.8" fill="#231f20" textLength="67" lengthAdjust="spacingAndGlyphs" stroke="#231f20" stroke-width="0.06">Percent survival (%)</text>
<path d="M211.90,448.81 L213.17,448.81 L214.44,448.81 L215.72,448.81 L216.99,448.81 L218.26,448.81 L219.53,448.81 L220.81,448.81 L222.08,448.81 L223.35,448.81 L224.62,448.81 L225.90,448.81 L227.17,448.81 L228.44,448.81 L229.72,448.81 L230.99,448.81 L232.26,448.81 L233.53,448.81 L234.81,448.81 L236.08,448.81 L237.35,448.81 L238.62,448.81 L239.89,448.81 L241.17,448.81 L242.44,448.81 L243.71,448.81 L244.99,448.81 L246.26,448.81 L247.53,448.81 L248.80,448.81 L250.07,448.81 L251.35,448.81 L252.62,448.81 L253.89,448.81 L255.17,448.81 L256.44,448.81 L257.71,448.81 L258.98,448.81 L260.25,448.81 L261.53,448.81 L262.80,448.81 L264.07,448.81 L265.35,448.81 L266.62,448.81 L267.89,448.81 L269.16,448.81 L270.44,448.81 L271.71,448.81 L272.98,448.81 L274.25,448.81 L275.52,448.81 L276.80,448.81 L278.07,448.81 L279.34,448.81 L280.62,448.81 L281.89,448.81 L283.16,448.81 L284.43,448.81 L285.70,448.81 L286.98,448.81 L288.25,448.81 L289.52,448.81 L290.80,448.81 L292.07,448.81 L293.34,448.81 L294.61,448.81 L295.88,448.81 L297.16,448.81 L298.43,448.81 L299.70,448.81 L300.98,448.81 L302.25,448.81 L303.52,448.81 L304.79,448.81 L306.06,448.81 L307.34,448.81 L308.61,448.81 L309.88,448.81 L311.15,448.81 L312.43,448.81 L313.70,448.81" fill="none" stroke="#3fa0d4" stroke-width="1.5"/>
<path d="M211.90,452.17 L213.17,452.77 L214.44,453.45 L215.72,454.20 L216.99,455.03 L218.26,455.96 L219.53,456.98 L220.81,458.11 L222.08,459.35 L223.35,460.71 L224.62,462.21 L225.90,463.83 L227.17,465.60 L228.44,467.52 L229.72,469.58 L230.99,471.80 L232.26,474.16 L233.53,476.67 L234.81,479.32 L236.08,482.11 L237.35,485.01 L238.62,488.01 L239.89,491.10 L241.17,494.26 L242.44,497.47 L243.71,500.70 L244.99,503.93 L246.26,507.14 L247.53,510.30 L248.80,513.39 L250.07,516.39 L251.35,519.29 L252.62,522.08 L253.89,524.73 L255.17,527.24 L256.44,529.60 L257.71,531.82 L258.98,533.88 L260.25,535.80 L261.53,537.57 L262.80,539.19 L264.07,540.69 L265.35,542.05 L266.62,543.29 L267.89,544.42 L269.16,545.44 L270.44,546.37 L271.71,547.20 L272.98,547.95 L274.25,548.63 L275.52,549.23 L276.80,549.77 L278.07,550.26 L279.34,550.69 L280.62,551.08 L281.89,551.43 L283.16,551.74 L284.43,552.01 L285.70,552.26 L286.98,552.47 L288.25,552.67 L289.52,552.84 L290.80,552.99 L292.07,553.13 L293.34,553.25 L294.61,553.36 L295.88,553.45 L297.16,553.54 L298.43,553.61 L299.70,553.68 L300.98,553.74 L302.25,553.79 L303.52,553.84 L304.79,553.88 L306.06,553.91 L307.34,553.95 L308.61,553.98 L309.88,554.00 L311.15,554.02 L312.43,554.04 L313.70,554.06" fill="none" stroke="#b01c3c" stroke-width="1.5"/>
<path d="M214.10,440.78 V451.48 M211.30,440.78 H216.90 M211.30,451.48 H216.90" stroke="#3fa0d4" stroke-width="1" fill="none"/>
<path d="M221.77,440.78 V451.48 M218.97,440.78 H224.57 M218.97,451.48 H224.57" stroke="#3fa0d4" stroke-width="1" fill="none"/>
<path d="M244.75,446.13 V456.83 M241.95,446.13 H247.55 M241.95,456.83 H247.55" stroke="#3fa0d4" stroke-width="1" fill="none"/>
<path d="M260.07,451.48 V458.97 M257.27,451.48 H262.87 M257.27,458.97 H262.87" stroke="#3fa0d4" stroke-width="1" fill="none"/>
<path d="M283.06,446.13 V454.69 M280.26,446.13 H285.86 M280.26,454.69 H285.86" stroke="#3fa0d4" stroke-width="1" fill="none"/>
<path d="M298.38,439.71 V452.55 M295.58,439.71 H301.18 M295.58,452.55 H301.18" stroke="#3fa0d4" stroke-width="1" fill="none"/>
<path d="M313.70,439.71 V463.25 M310.90,439.71 H316.50 M310.90,463.25 H316.50" stroke="#3fa0d4" stroke-width="1" fill="none"/>
<circle cx="214.10" cy="446.13" r="3.5" fill="#fff" fill-opacity="0.9" stroke="#3fa0d4" stroke-width="1.1"/>
<circle cx="221.77" cy="445.27" r="3.5" fill="#fff" fill-opacity="0.9" stroke="#3fa0d4" stroke-width="1.1"/>
<circle cx="229.43" cy="450.62" r="3.5" fill="#fff" fill-opacity="0.9" stroke="#3fa0d4" stroke-width="1.1"/>
<circle cx="237.09" cy="448.27" r="3.5" fill="#fff" fill-opacity="0.9" stroke="#3fa0d4" stroke-width="1.1"/>
<circle cx="244.75" cy="451.80" r="3.5" fill="#fff" fill-opacity="0.9" stroke="#3fa0d4" stroke-width="1.1"/>
<circle cx="252.41" cy="456.30" r="3.5" fill="#fff" fill-opacity="0.9" stroke="#3fa0d4" stroke-width="1.1"/>
<circle cx="260.07" cy="453.30" r="3.5" fill="#fff" fill-opacity="0.9" stroke="#3fa0d4" stroke-width="1.1"/>
<circle cx="267.73" cy="452.23" r="3.5" fill="#fff" fill-opacity="0.9" stroke="#3fa0d4" stroke-width="1.1"/>
<circle cx="275.39" cy="445.27" r="3.5" fill="#fff" fill-opacity="0.9" stroke="#3fa0d4" stroke-width="1.1"/>
<circle cx="283.06" cy="450.62" r="3.5" fill="#fff" fill-opacity="0.9" stroke="#3fa0d4" stroke-width="1.1"/>
<circle cx="290.72" cy="440.78" r="3.5" fill="#fff" fill-opacity="0.9" stroke="#3fa0d4" stroke-width="1.1"/>
<circle cx="298.38" cy="447.63" r="3.5" fill="#fff" fill-opacity="0.9" stroke="#3fa0d4" stroke-width="1.1"/>
<circle cx="306.04" cy="443.46" r="3.5" fill="#fff" fill-opacity="0.9" stroke="#3fa0d4" stroke-width="1.1"/>
<circle cx="313.70" cy="452.66" r="3.5" fill="#fff" fill-opacity="0.9" stroke="#3fa0d4" stroke-width="1.1"/>
<path d="M229.43,461.11 V475.02 M226.63,461.11 H232.23 M226.63,475.02 H232.23" stroke="#b01c3c" stroke-width="1" fill="none"/>
<path d="M237.09,480.37 V490.00 M234.29,480.37 H239.89 M234.29,490.00 H239.89" stroke="#b01c3c" stroke-width="1" fill="none"/>
<path d="M244.75,490.00 V510.33 M241.95,490.00 H247.55 M241.95,510.33 H247.55" stroke="#b01c3c" stroke-width="1" fill="none"/>
<path d="M252.41,508.19 V527.45 M249.61,508.19 H255.21 M249.61,527.45 H255.21" stroke="#b01c3c" stroke-width="1" fill="none"/>
<path d="M260.07,523.17 V543.50 M257.27,523.17 H262.87 M257.27,543.50 H262.87" stroke="#b01c3c" stroke-width="1" fill="none"/>
<path d="M267.73,534.94 V548.85 M264.93,534.94 H270.53 M264.93,548.85 H270.53" stroke="#b01c3c" stroke-width="1" fill="none"/>
<circle cx="214.10" cy="452.87" r="3.5" fill="#fff" fill-opacity="0.9" stroke="#b01c3c" stroke-width="1.1"/>
<circle cx="221.77" cy="459.08" r="3.5" fill="#fff" fill-opacity="0.9" stroke="#b01c3c" stroke-width="1.1"/>
<circle cx="229.43" cy="468.28" r="3.5" fill="#fff" fill-opacity="0.9" stroke="#b01c3c" stroke-width="1.1"/>
<circle cx="237.09" cy="485.29" r="3.5" fill="#fff" fill-opacity="0.9" stroke="#b01c3c" stroke-width="1.1"/>
<circle cx="244.75" cy="501.34" r="3.5" fill="#fff" fill-opacity="0.9" stroke="#b01c3c" stroke-width="1.1"/>
<circle cx="252.41" cy="519.21" r="3.5" fill="#fff" fill-opacity="0.9" stroke="#b01c3c" stroke-width="1.1"/>
<circle cx="260.07" cy="533.66" r="3.5" fill="#fff" fill-opacity="0.9" stroke="#b01c3c" stroke-width="1.1"/>
<circle cx="267.73" cy="541.15" r="3.5" fill="#fff" fill-opacity="0.9" stroke="#b01c3c" stroke-width="1.1"/>
<circle cx="275.39" cy="544.14" r="3.5" fill="#fff" fill-opacity="0.9" stroke="#b01c3c" stroke-width="1.1"/>
<circle cx="283.06" cy="546.28" r="3.5" fill="#fff" fill-opacity="0.9" stroke="#b01c3c" stroke-width="1.1"/>
<circle cx="290.72" cy="545.32" r="3.5" fill="#fff" fill-opacity="0.9" stroke="#b01c3c" stroke-width="1.1"/>
<circle cx="298.38" cy="547.46" r="3.5" fill="#fff" fill-opacity="0.9" stroke="#b01c3c" stroke-width="1.1"/>
<circle cx="306.04" cy="548.53" r="3.5" fill="#fff" fill-opacity="0.9" stroke="#b01c3c" stroke-width="1.1"/>
<circle cx="313.70" cy="549.81" r="3.5" fill="#fff" fill-opacity="0.9" stroke="#b01c3c" stroke-width="1.1"/>
<text x="353.5" y="392.3" font-size="11" fill="#111" text-anchor="start" font-weight="bold"  stroke="#111" stroke-width="0.06">D</text>
<text x="364.0" y="408.6" font-size="7.5" fill="#231f20" text-anchor="start" font-weight="normal"  stroke="#231f20" stroke-width="0.06">BB7.1 cells</text>
<line x1="408.2" y1="396.2" x2="408.2" y2="416.6" stroke="#222" stroke-width="1.3"/>
<line x1="414.59999999999997" y1="397.9" x2="429.2" y2="397.9" stroke="#b01c3c" stroke-width="1.1"/>
<circle cx="421.9" cy="397.9" r="3.5" fill="#fff" stroke="#b01c3c" stroke-width="1.1"/>
<text x="432.8" y="400.79999999999995" font-size="7.9" fill="#b01c3c" text-anchor="start" font-weight="normal"  stroke="#b01c3c" stroke-width="0.06">A2Fc</text>
<line x1="414.59999999999997" y1="414.4" x2="429.2" y2="414.4" stroke="#3fa0d4" stroke-width="1.1"/>
<circle cx="421.9" cy="414.4" r="3.5" fill="#fff" stroke="#3fa0d4" stroke-width="1.1"/>
<text x="432.8" y="417.29999999999995" font-size="7.9" fill="#3fa0d4" text-anchor="start" font-weight="normal"  stroke="#3fa0d4" stroke-width="0.06">B7Fc</text>
<line x1="388.8" y1="425.5" x2="388.8" y2="554.8" stroke="#222" stroke-width="1.3"/>
<line x1="388.2" y1="554.2" x2="517.65" y2="554.2" stroke="#222" stroke-width="1.3"/>
<line x1="386.40000000000003" y1="554.20" x2="388.8" y2="554.20" stroke="#222" stroke-width="1"/>
<text x="382.0" y="557.2" font-size="8.4" fill="#231f20" text-anchor="end" font-weight="normal"  stroke="#231f20" stroke-width="0.06">0</text>
<line x1="386.40000000000003" y1="532.80" x2="388.8" y2="532.80" stroke="#222" stroke-width="1"/>
<text x="382.0" y="535.8000000000001" font-size="8.4" fill="#231f20" text-anchor="end" font-weight="normal"  stroke="#231f20" stroke-width="0.06">20</text>
<line x1="386.40000000000003" y1="511.40" x2="388.8" y2="511.40" stroke="#222" stroke-width="1"/>
<text x="382.0" y="514.4000000000001" font-size="8.4" fill="#231f20" text-anchor="end" font-weight="normal"  stroke="#231f20" stroke-width="0.06">40</text>
<line x1="386.40000000000003" y1="490.00" x2="388.8" y2="490.00" stroke="#222" stroke-width="1"/>
<text x="382.0" y="493.00000000000006" font-size="8.4" fill="#231f20" text-anchor="end" font-weight="normal"  stroke="#231f20" stroke-width="0.06">60</text>
<line x1="386.40000000000003" y1="468.60" x2="388.8" y2="468.60" stroke="#222" stroke-width="1"/>
<text x="382.0" y="471.6" font-size="8.4" fill="#231f20" text-anchor="end" font-weight="normal"  stroke="#231f20" stroke-width="0.06">80</text>
<line x1="386.40000000000003" y1="447.20" x2="388.8" y2="447.20" stroke="#222" stroke-width="1"/>
<text x="382.0" y="450.20000000000005" font-size="8.4" fill="#231f20" text-anchor="end" font-weight="normal"  stroke="#231f20" stroke-width="0.06">100</text>
<line x1="386.40000000000003" y1="425.80" x2="388.8" y2="425.80" stroke="#222" stroke-width="1"/>
<text x="382.0" y="428.80000000000007" font-size="8.4" fill="#231f20" text-anchor="end" font-weight="normal"  stroke="#231f20" stroke-width="0.06">120</text>
<line x1="388.80" y1="554.2" x2="388.80" y2="556.8" stroke="#222" stroke-width="1"/>
<text x="388.0" y="567.8" font-size="8.4" fill="#231f20" text-anchor="middle" font-weight="normal"  stroke="#231f20" stroke-width="0.06">−6</text>
<line x1="414.25" y1="554.2" x2="414.25" y2="556.8" stroke="#222" stroke-width="1"/>
<text x="413.45" y="567.8" font-size="8.4" fill="#231f20" text-anchor="middle" font-weight="normal"  stroke="#231f20" stroke-width="0.06">−5</text>
<line x1="439.70" y1="554.2" x2="439.70" y2="556.8" stroke="#222" stroke-width="1"/>
<text x="438.9" y="567.8" font-size="8.4" fill="#231f20" text-anchor="middle" font-weight="normal"  stroke="#231f20" stroke-width="0.06">−4</text>
<line x1="465.15" y1="554.2" x2="465.15" y2="556.8" stroke="#222" stroke-width="1"/>
<text x="464.34999999999997" y="567.8" font-size="8.4" fill="#231f20" text-anchor="middle" font-weight="normal"  stroke="#231f20" stroke-width="0.06">−3</text>
<line x1="490.60" y1="554.2" x2="490.60" y2="556.8" stroke="#222" stroke-width="1"/>
<text x="489.8" y="567.8" font-size="8.4" fill="#231f20" text-anchor="middle" font-weight="normal"  stroke="#231f20" stroke-width="0.06">−2</text>
<line x1="516.05" y1="554.2" x2="516.05" y2="556.8" stroke="#222" stroke-width="1"/>
<text x="515.25" y="567.8" font-size="8.4" fill="#231f20" text-anchor="middle" font-weight="normal"  stroke="#231f20" stroke-width="0.06">−1</text>
<text x="406.3" y="581.3" font-size="9.2" fill="#231f20" textLength="96" lengthAdjust="spacingAndGlyphs" stroke="#231f20" stroke-width="0.06">Concentration (log, mg/mL)</text>
<text transform="translate(362.2,521.5) rotate(-90)" font-size="8.8" fill="#231f20" textLength="67" lengthAdjust="spacingAndGlyphs" stroke="#231f20" stroke-width="0.06">Percent survival (%)</text>
<path d="M388.80,448.83 L390.07,449.00 L391.35,449.19 L392.62,449.40 L393.89,449.62 L395.16,449.88 L396.44,450.15 L397.71,450.46 L398.98,450.80 L400.25,451.16 L401.53,451.57 L402.80,452.01 L404.07,452.50 L405.34,453.04 L406.62,453.62 L407.89,454.26 L409.16,454.96 L410.43,455.72 L411.71,456.54 L412.98,457.44 L414.25,458.42 L415.52,459.48 L416.80,460.62 L418.07,461.85 L419.34,463.17 L420.61,464.60 L421.88,466.12 L423.16,467.74 L424.43,469.47 L425.70,471.30 L426.98,473.24 L428.25,475.27 L429.52,477.41 L430.79,479.64 L432.06,481.96 L433.34,484.36 L434.61,486.83 L435.88,489.36 L437.16,491.95 L438.43,494.58 L439.70,497.23 L440.97,499.90 L442.25,502.56 L443.52,505.22 L444.79,507.84 L446.06,510.43 L447.34,512.97 L448.61,515.44 L449.88,517.84 L451.15,520.16 L452.43,522.39 L453.70,524.52 L454.97,526.56 L456.24,528.49 L457.51,530.32 L458.79,532.05 L460.06,533.68 L461.33,535.20 L462.61,536.62 L463.88,537.95 L465.15,539.18 L466.42,540.32 L467.69,541.38 L468.97,542.35 L470.24,543.25 L471.51,544.08 L472.79,544.84 L474.06,545.54 L475.33,546.18 L476.60,546.76 L477.88,547.29 L479.15,547.78 L480.42,548.23 L481.69,548.63 L482.97,549.00 L484.24,549.34 L485.51,549.64 L486.78,549.92 L488.06,550.17 L489.33,550.40 L490.60,550.61" fill="none" stroke="#3fa0d4" stroke-width="1.5"/>
<path d="M388.80,450.09 L390.07,450.09 L391.35,450.09 L392.62,450.09 L393.89,450.09 L395.16,450.09 L396.44,450.09 L397.71,450.09 L398.98,450.09 L400.25,450.09 L401.53,450.09 L402.80,450.09 L404.07,450.09 L405.34,450.09 L406.62,450.09 L407.89,450.09 L409.16,450.09 L410.43,450.09 L411.71,450.09 L412.98,450.09 L414.25,450.09 L415.52,450.09 L416.80,450.09 L418.07,450.09 L419.34,450.09 L420.61,450.09 L421.88,450.09 L423.16,450.09 L424.43,450.09 L425.70,450.09 L426.98,450.09 L428.25,450.09 L429.52,450.09 L430.79,450.09 L432.06,450.09 L433.34,450.09 L434.61,450.09 L435.88,450.09 L437.16,450.09 L438.43,450.09 L439.70,450.09 L440.97,450.09 L442.25,450.09 L443.52,450.09 L444.79,450.09 L446.06,450.09 L447.34,450.09 L448.61,450.09 L449.88,450.09 L451.15,450.09 L452.43,450.09 L453.70,450.09 L454.97,450.09 L456.24,450.09 L457.51,450.09 L458.79,450.09 L460.06,450.09 L461.33,450.09 L462.61,450.09 L463.88,450.09 L465.15,450.09 L466.42,450.09 L467.69,450.09 L468.97,450.09 L470.24,450.09 L471.51,450.09 L472.79,450.09 L474.06,450.09 L475.33,450.09 L476.60,450.09 L477.88,450.09 L479.15,450.09 L480.42,450.09 L481.69,450.09 L482.97,450.09 L484.24,450.09 L485.51,450.09 L486.78,450.09 L488.06,450.09 L489.33,450.09 L490.60,450.09" fill="none" stroke="#b01c3c" stroke-width="1.5"/>
<path d="M429.31,457.90 V483.58 M426.51,457.90 H432.11 M426.51,483.58 H432.11" stroke="#3fa0d4" stroke-width="1" fill="none"/>
<path d="M436.97,478.23 V504.98 M434.17,478.23 H439.77 M434.17,504.98 H439.77" stroke="#3fa0d4" stroke-width="1" fill="none"/>
<path d="M444.63,499.63 V516.75 M441.83,499.63 H447.43 M441.83,516.75 H447.43" stroke="#3fa0d4" stroke-width="1" fill="none"/>
<path d="M459.96,521.03 V530.66 M457.16,521.03 H462.76 M457.16,530.66 H462.76" stroke="#3fa0d4" stroke-width="1" fill="none"/>
<path d="M475.28,524.24 V534.94 M472.48,524.24 H478.08 M472.48,534.94 H478.08" stroke="#3fa0d4" stroke-width="1" fill="none"/>
<path d="M490.60,530.66 V541.36 M487.80,530.66 H493.40 M487.80,541.36 H493.40" stroke="#3fa0d4" stroke-width="1" fill="none"/>
<circle cx="391.00" cy="446.34" r="3.5" fill="#fff" fill-opacity="0.9" stroke="#3fa0d4" stroke-width="1.1"/>
<circle cx="398.67" cy="446.34" r="3.5" fill="#fff" fill-opacity="0.9" stroke="#3fa0d4" stroke-width="1.1"/>
<circle cx="406.33" cy="449.34" r="3.5" fill="#fff" fill-opacity="0.9" stroke="#3fa0d4" stroke-width="1.1"/>
<circle cx="413.99" cy="454.69" r="3.5" fill="#fff" fill-opacity="0.9" stroke="#3fa0d4" stroke-width="1.1"/>
<circle cx="421.65" cy="455.76" r="3.5" fill="#fff" fill-opacity="0.9" stroke="#3fa0d4" stroke-width="1.1"/>
<circle cx="429.31" cy="471.81" r="3.5" fill="#fff" fill-opacity="0.9" stroke="#3fa0d4" stroke-width="1.1"/>
<circle cx="436.97" cy="493.21" r="3.5" fill="#fff" fill-opacity="0.9" stroke="#3fa0d4" stroke-width="1.1"/>
<circle cx="444.63" cy="509.26" r="3.5" fill="#fff" fill-opacity="0.9" stroke="#3fa0d4" stroke-width="1.1"/>
<circle cx="452.29" cy="526.81" r="3.5" fill="#fff" fill-opacity="0.9" stroke="#3fa0d4" stroke-width="1.1"/>
<circle cx="459.96" cy="526.06" r="3.5" fill="#fff" fill-opacity="0.9" stroke="#3fa0d4" stroke-width="1.1"/>
<circle cx="467.62" cy="536.55" r="3.5" fill="#fff" fill-opacity="0.9" stroke="#3fa0d4" stroke-width="1.1"/>
<circle cx="475.28" cy="530.66" r="3.5" fill="#fff" fill-opacity="0.9" stroke="#3fa0d4" stroke-width="1.1"/>
<circle cx="482.94" cy="540.61" r="3.5" fill="#fff" fill-opacity="0.9" stroke="#3fa0d4" stroke-width="1.1"/>
<circle cx="490.60" cy="536.87" r="3.5" fill="#fff" fill-opacity="0.9" stroke="#3fa0d4" stroke-width="1.1"/>
<path d="M413.99,441.85 V455.76 M411.19,441.85 H416.79 M411.19,455.76 H416.79" stroke="#b01c3c" stroke-width="1" fill="none"/>
<path d="M421.65,443.99 V453.62 M418.85,443.99 H424.45 M418.85,453.62 H424.45" stroke="#b01c3c" stroke-width="1" fill="none"/>
<path d="M436.97,443.99 V456.83 M434.17,443.99 H439.77 M434.17,456.83 H439.77" stroke="#b01c3c" stroke-width="1" fill="none"/>
<path d="M444.63,445.06 V454.69 M441.83,445.06 H447.43 M441.83,454.69 H447.43" stroke="#b01c3c" stroke-width="1" fill="none"/>
<path d="M459.96,442.92 V455.76 M457.16,442.92 H462.76 M457.16,455.76 H462.76" stroke="#b01c3c" stroke-width="1" fill="none"/>
<path d="M475.28,442.92 V456.83 M472.48,442.92 H478.08 M472.48,456.83 H478.08" stroke="#b01c3c" stroke-width="1" fill="none"/>
<path d="M490.60,440.78 V455.76 M487.80,440.78 H493.40 M487.80,455.76 H493.40" stroke="#b01c3c" stroke-width="1" fill="none"/>
<circle cx="391.00" cy="452.55" r="3.5" fill="#fff" fill-opacity="0.9" stroke="#b01c3c" stroke-width="1.1"/>
<circle cx="398.67" cy="452.12" r="3.5" fill="#fff" fill-opacity="0.9" stroke="#b01c3c" stroke-width="1.1"/>
<circle cx="406.33" cy="454.05" r="3.5" fill="#fff" fill-opacity="0.9" stroke="#b01c3c" stroke-width="1.1"/>
<circle cx="413.99" cy="449.88" r="3.5" fill="#fff" fill-opacity="0.9" stroke="#b01c3c" stroke-width="1.1"/>
<circle cx="421.65" cy="449.23" r="3.5" fill="#fff" fill-opacity="0.9" stroke="#b01c3c" stroke-width="1.1"/>
<circle cx="429.31" cy="452.55" r="3.5" fill="#fff" fill-opacity="0.9" stroke="#b01c3c" stroke-width="1.1"/>
<circle cx="436.97" cy="452.55" r="3.5" fill="#fff" fill-opacity="0.9" stroke="#b01c3c" stroke-width="1.1"/>
<circle cx="444.63" cy="449.88" r="3.5" fill="#fff" fill-opacity="0.9" stroke="#b01c3c" stroke-width="1.1"/>
<circle cx="452.29" cy="445.27" r="3.5" fill="#fff" fill-opacity="0.9" stroke="#b01c3c" stroke-width="1.1"/>
<circle cx="459.96" cy="449.45" r="3.5" fill="#fff" fill-opacity="0.9" stroke="#b01c3c" stroke-width="1.1"/>
<circle cx="467.62" cy="440.78" r="3.5" fill="#fff" fill-opacity="0.9" stroke="#b01c3c" stroke-width="1.1"/>
<circle cx="475.28" cy="449.88" r="3.5" fill="#fff" fill-opacity="0.9" stroke="#b01c3c" stroke-width="1.1"/>
<circle cx="482.94" cy="436.82" r="3.5" fill="#fff" fill-opacity="0.9" stroke="#b01c3c" stroke-width="1.1"/>
<circle cx="490.60" cy="449.23" r="3.5" fill="#fff" fill-opacity="0.9" stroke="#b01c3c" stroke-width="1.1"/>
</svg></body></html>
